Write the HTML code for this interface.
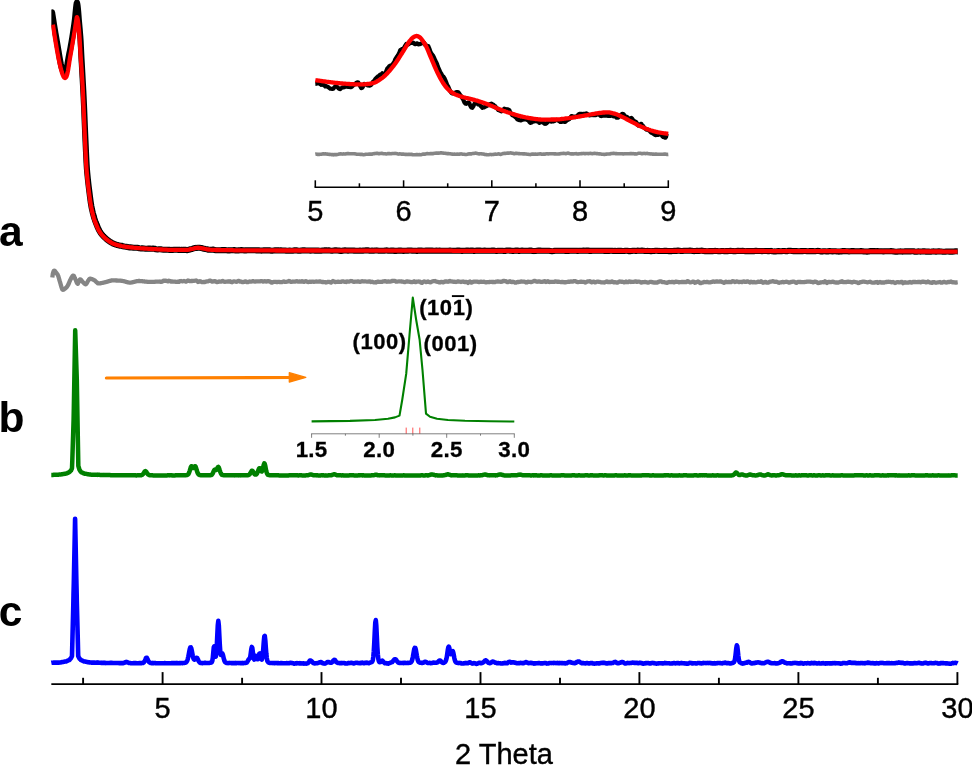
<!DOCTYPE html>
<html lang="en">
<head>
<meta charset="utf-8">
<title>XRD patterns</title>
<style>
html,body{margin:0;padding:0;background:#fff;}
body{width:972px;height:765px;overflow:hidden;}
svg{display:block;}
svg text{font-family:"Liberation Sans",Arial,Helvetica,sans-serif;fill:#000;}
.curve{fill:none;stroke-linejoin:round;stroke-linecap:butt;}
.ax{stroke:#000;stroke-width:1.9;fill:none;stroke-linecap:butt;}
.tl{font-size:29px;text-anchor:middle;stroke:#000;stroke-width:0.4px;}
.jl{font-size:22.3px;font-weight:bold;text-anchor:middle;letter-spacing:0.3px;stroke:#000;stroke-width:0.3px;}
.hk{font-size:22px;font-weight:bold;letter-spacing:0.55px;stroke:#000;stroke-width:0.3px;}
.pl{font-size:42.5px;font-weight:bold;}
</style>
</head>
<body>
<svg width="972" height="765" viewBox="0 0 972 765">
<rect x="0" y="0" width="972" height="765" fill="#ffffff"/>
<defs><clipPath id="plotclip"><rect x="51.35" y="-5" width="906.4" height="700"/></clipPath></defs>

<!-- pattern a: experimental (black), fit (red), difference (gray) -->
<path class="curve" stroke="#000000" stroke-width="6.1" style="stroke-linecap:round" clip-path="url(#plotclip)" d="M52.1,12.4 L52.4,14.4 L52.7,16.3 L53.0,18.2 L53.3,20.1 L53.6,22.0 L53.9,23.9 L54.2,25.7 L54.5,27.5 L54.8,29.3 L55.1,31.1 L55.4,32.9 L55.7,34.6 L56.0,36.3 L56.3,38.0 L56.6,39.7 L56.9,41.5 L57.2,43.2 L57.5,45.0 L57.8,46.8 L58.1,48.5 L58.4,50.3 L58.7,52.1 L59.0,53.9 L59.3,55.7 L59.6,57.5 L59.9,59.2 L60.2,60.8 L60.5,62.3 L60.8,63.9 L61.1,65.3 L61.4,66.6 L61.7,67.7 L62.0,68.6 L62.3,69.5 L62.6,70.3 L62.9,70.9 L63.2,71.4 L63.5,71.8 L63.8,72.1 L64.1,72.3 L64.4,72.4 L64.7,72.5 L65.0,72.4 L65.3,72.2 L65.6,71.9 L65.9,71.3 L66.2,70.3 L66.5,69.2 L66.8,67.9 L67.1,66.2 L67.4,64.4 L67.7,62.6 L68.0,60.8 L68.3,59.0 L68.6,57.3 L68.9,55.7 L69.2,54.2 L69.5,52.7 L69.8,51.3 L70.1,49.8 L70.4,48.2 L70.7,46.6 L71.0,44.9 L71.3,43.2 L71.6,41.5 L71.9,39.7 L72.2,37.9 L72.5,36.1 L72.8,34.2 L73.1,32.3 L73.4,30.3 L73.7,28.3 L74.0,26.3 L74.3,24.2 L74.6,22.0 L74.9,19.6 L75.2,16.7 L75.5,13.5 L75.8,10.5 L76.1,7.6 L76.4,5.1 L76.7,3.3 L77.0,2.6 L77.3,3.9 L77.6,5.8 L77.9,8.5 L78.2,11.7 L78.5,15.5 L78.8,19.4 L79.1,22.8 L79.4,26.1 L79.7,29.4 L80.0,32.9 L80.3,36.5 L80.6,40.8 L80.9,46.7 L81.2,53.0 L81.5,58.6 L81.8,63.8 L82.1,69.1 L82.4,74.5 L82.7,79.8 L83.0,85.3 L83.3,91.0 L83.6,96.9 L83.9,103.3 L84.2,110.2 L84.5,117.5 L84.8,124.9 L85.1,132.1 L85.4,138.9 L85.7,145.5 L86.0,152.1 L86.3,158.4 L86.6,164.1 L86.9,168.7 L87.2,172.4 L87.5,175.5 L87.8,178.5 L88.1,181.3 L88.4,184.0 L88.7,186.5 L89.0,188.9 L89.3,191.3 L89.6,193.7 L89.9,196.1 L90.2,198.4 L90.5,200.6 L90.8,202.7 L91.1,204.6 L91.4,206.3 L91.7,207.8 L92.0,209.3 L92.3,210.6 L92.6,211.9 L92.9,213.2 L93.2,214.3 L93.5,215.4 L93.8,216.5 L94.1,217.5 L94.4,218.5 L94.7,219.4 L95.0,220.3 L95.3,221.2 L95.6,222.0 L95.9,222.8 L96.2,223.5 L96.5,224.3 L96.8,225.0 L97.1,225.8 L97.4,226.5 L97.7,227.2 L98.0,227.9 L98.3,228.6 L98.6,229.2 L98.9,229.9 L99.2,230.4 L99.5,231.0 L99.8,231.5 L100.1,231.9 L100.4,232.4 L100.7,232.9 L101.0,233.3 L101.3,233.7 L101.6,234.1 L101.9,234.5 L102.2,234.8 L102.5,235.2 L102.8,235.5 L103.1,235.8 L103.4,236.2 L103.7,236.5 L104.0,236.8 L104.3,237.1 L104.6,237.4 L104.9,237.6 L105.2,237.9 L105.5,238.2 L105.8,238.4 L106.1,238.7 L106.4,239.0 L106.7,239.2 L107.0,239.5 L107.3,239.7 L107.6,240.0 L107.9,240.2 L108.2,240.4 L108.5,240.7 L108.8,240.9 L109.1,241.1 L109.4,241.3 L109.7,241.5 L110.0,241.7 L110.3,241.9 L110.6,242.1 L110.9,242.3 L111.2,242.4 L111.5,242.6 L111.8,242.8 L112.1,243.0 L112.4,243.1 L112.7,243.3 L113.0,243.4 L113.3,243.6 L113.6,243.7 L113.9,243.8 L114.2,243.9 L114.5,244.1 L114.8,244.2 L115.1,244.3 L115.4,244.4 L115.7,244.5 L116.0,244.6 L116.3,244.7 L116.6,244.8 L116.9,244.9 L117.2,245.0 L117.5,245.0 L117.8,245.1 L118.1,245.2 L118.4,245.3 L118.7,245.4 L119.0,245.4 L119.3,245.5 L119.6,245.6 L119.9,245.6 L120.0,245.7 L121.5,245.8 L123.0,246.2 L124.5,246.5 L126.0,246.7 L127.5,247.0 L129.0,247.4 L130.5,247.4 L132.0,247.5 L133.5,247.7 L135.0,247.8 L136.5,247.8 L138.0,247.9 L139.5,248.2 L141.0,248.4 L142.5,248.4 L144.0,248.5 L145.5,248.7 L147.0,248.8 L148.5,248.6 L150.0,248.6 L151.5,248.7 L153.0,248.5 L154.5,248.7 L156.0,249.3 L157.5,249.5 L159.0,249.3 L160.5,249.2 L162.0,249.5 L163.5,249.7 L165.0,249.7 L166.5,249.7 L168.0,249.8 L169.5,249.9 L171.0,250.0 L172.5,249.9 L174.0,249.7 L175.5,249.8 L177.0,249.8 L178.5,249.9 L180.0,249.9 L181.5,249.7 L183.0,249.9 L184.5,249.8 L186.0,249.9 L187.5,250.2 L189.0,249.7 L190.5,249.3 L192.0,249.0 L193.5,248.4 L195.0,248.0 L196.5,247.9 L198.0,247.7 L199.5,247.7 L201.0,247.9 L202.5,248.3 L204.0,248.8 L205.5,249.1 L207.0,249.3 L208.5,249.7 L210.0,249.8 L211.5,249.7 L213.0,249.6 L214.5,249.9 L216.0,250.2 L217.5,250.2 L219.0,250.2 L220.5,250.2 L222.0,250.1 L223.5,250.1 L225.0,250.1 L226.5,250.2 L228.0,250.4 L229.5,250.4 L231.0,250.3 L232.5,250.2 L234.0,250.1 L235.5,250.4 L237.0,250.5 L238.5,250.4 L240.0,250.3 L241.5,250.1 L243.0,250.2 L244.5,250.4 L246.0,250.4 L247.5,250.3 L249.0,250.3 L250.5,250.3 L252.0,250.2 L253.5,250.2 L255.0,250.3 L256.5,250.4 L258.0,250.4 L259.5,250.4 L261.0,250.6 L262.5,250.5 L264.0,250.3 L265.5,250.4 L267.0,250.4 L268.5,250.3 L270.0,250.4 L271.5,250.7 L273.0,250.6 L274.5,250.4 L276.0,250.3 L277.5,250.4 L279.0,250.4 L280.5,250.2 L282.0,250.5 L283.5,250.5 L285.0,250.5 L286.5,250.8 L288.0,250.7 L289.5,250.6 L291.0,250.8 L292.5,250.7 L294.0,250.4 L295.5,250.3 L297.0,250.4 L298.5,250.7 L300.0,250.8 L301.5,250.5 L303.0,250.3 L304.5,250.4 L306.0,250.5 L307.5,250.5 L309.0,250.5 L310.5,250.6 L312.0,250.5 L313.5,250.5 L315.0,250.6 L316.5,250.6 L318.0,250.6 L319.5,250.8 L321.0,250.8 L322.5,250.6 L324.0,250.4 L325.5,250.4 L327.0,250.4 L328.5,250.2 L330.0,250.5 L331.5,250.7 L333.0,250.6 L334.5,250.4 L336.0,250.3 L337.5,250.5 L339.0,250.6 L340.5,250.9 L342.0,250.9 L343.5,250.5 L345.0,250.4 L346.5,250.5 L348.0,250.6 L349.5,250.5 L351.0,250.5 L352.5,250.5 L354.0,250.6 L355.5,250.8 L357.0,250.8 L358.5,250.7 L360.0,250.6 L361.5,250.7 L363.0,250.6 L364.5,250.5 L366.0,250.4 L367.5,250.3 L369.0,250.6 L370.5,250.7 L372.0,250.6 L373.5,250.8 L375.0,250.6 L376.5,250.4 L378.0,250.6 L379.5,250.7 L381.0,250.7 L382.5,250.7 L384.0,250.8 L385.5,250.5 L387.0,250.4 L388.5,250.7 L390.0,250.8 L391.5,250.5 L393.0,250.6 L394.5,250.9 L396.0,250.9 L397.5,250.8 L399.0,250.6 L400.5,250.5 L402.0,250.8 L403.5,250.9 L405.0,250.8 L406.5,250.8 L408.0,250.6 L409.5,250.5 L411.0,250.5 L412.5,250.8 L414.0,250.7 L415.5,250.7 L417.0,250.9 L418.5,250.6 L420.0,250.5 L421.5,250.6 L423.0,250.7 L424.5,250.7 L426.0,250.6 L427.5,250.6 L429.0,250.6 L430.5,250.5 L432.0,250.6 L433.5,250.8 L435.0,250.7 L436.5,250.6 L438.0,250.7 L439.5,250.6 L441.0,250.7 L442.5,250.8 L444.0,250.8 L445.5,250.8 L447.0,250.7 L448.5,250.8 L450.0,250.6 L451.5,250.7 L453.0,250.8 L454.5,250.8 L456.0,250.8 L457.5,250.6 L459.0,250.6 L460.5,250.8 L462.0,250.9 L463.5,250.8 L465.0,250.7 L466.5,250.6 L468.0,250.6 L469.5,250.7 L471.0,250.5 L472.5,250.6 L474.0,250.9 L475.5,250.7 L477.0,250.5 L478.5,250.6 L480.0,250.6 L481.5,250.7 L483.0,250.7 L484.5,250.6 L486.0,250.8 L487.5,250.8 L489.0,250.8 L490.5,250.7 L492.0,250.6 L493.5,250.5 L495.0,250.8 L496.5,251.0 L498.0,250.8 L499.5,250.8 L501.0,250.8 L502.5,250.8 L504.0,251.0 L505.5,250.9 L507.0,250.5 L508.5,250.5 L510.0,250.6 L511.5,250.7 L513.0,251.0 L514.5,250.8 L516.0,250.6 L517.5,250.6 L519.0,250.9 L520.5,250.7 L522.0,250.6 L523.5,250.8 L525.0,250.8 L526.5,250.8 L528.0,250.7 L529.5,250.6 L531.0,250.6 L532.5,250.9 L534.0,251.1 L535.5,250.9 L537.0,250.7 L538.5,250.5 L540.0,250.6 L541.5,250.8 L543.0,250.8 L544.5,250.8 L546.0,250.7 L547.5,250.7 L549.0,250.8 L550.5,251.0 L552.0,251.2 L553.5,251.0 L555.0,250.7 L556.5,250.8 L558.0,250.8 L559.5,250.7 L561.0,250.8 L562.5,250.7 L564.0,250.8 L565.5,250.9 L567.0,250.9 L568.5,250.9 L570.0,250.8 L571.5,250.7 L573.0,250.7 L574.5,250.8 L576.0,250.8 L577.5,250.9 L579.0,250.7 L580.5,250.7 L582.0,250.7 L583.5,250.6 L585.0,250.8 L586.5,250.6 L588.0,250.6 L589.5,250.9 L591.0,250.9 L592.5,250.8 L594.0,250.8 L595.5,250.7 L597.0,250.7 L598.5,250.8 L600.0,250.8 L601.5,250.7 L603.0,250.8 L604.5,250.9 L606.0,250.9 L607.5,250.8 L609.0,250.9 L610.5,250.8 L612.0,250.7 L613.5,251.0 L615.0,250.9 L616.5,251.0 L618.0,250.9 L619.5,250.8 L621.0,250.9 L622.5,251.0 L624.0,251.0 L625.5,250.7 L627.0,250.8 L628.5,251.1 L630.0,251.1 L631.5,251.0 L633.0,250.7 L634.5,250.8 L636.0,251.0 L637.5,250.6 L639.0,250.7 L640.5,250.8 L642.0,250.6 L643.5,250.7 L645.0,251.0 L646.5,251.0 L648.0,250.9 L649.5,251.1 L651.0,251.3 L652.5,251.1 L654.0,250.9 L655.5,250.7 L657.0,250.7 L658.5,250.9 L660.0,251.0 L661.5,251.0 L663.0,251.0 L664.5,250.9 L666.0,250.8 L667.5,251.0 L669.0,251.1 L670.5,251.1 L672.0,251.1 L673.5,250.9 L675.0,250.9 L676.5,250.9 L678.0,250.6 L679.5,250.8 L681.0,251.0 L682.5,251.0 L684.0,250.8 L685.5,250.7 L687.0,250.8 L688.5,250.8 L690.0,250.6 L691.5,250.7 L693.0,251.0 L694.5,251.1 L696.0,250.9 L697.5,250.9 L699.0,251.0 L700.5,250.7 L702.0,250.6 L703.5,251.0 L705.0,251.1 L706.5,251.2 L708.0,251.3 L709.5,251.1 L711.0,251.0 L712.5,251.1 L714.0,251.0 L715.5,250.9 L717.0,251.1 L718.5,251.3 L720.0,251.2 L721.5,251.0 L723.0,251.0 L724.5,251.2 L726.0,251.1 L727.5,251.1 L729.0,251.0 L730.5,250.9 L732.0,251.0 L733.5,251.1 L735.0,251.2 L736.5,250.9 L738.0,250.7 L739.5,250.9 L741.0,251.0 L742.5,250.8 L744.0,251.0 L745.5,251.2 L747.0,251.1 L748.5,251.0 L750.0,251.1 L751.5,251.1 L753.0,251.1 L754.5,251.1 L756.0,250.8 L757.5,251.0 L759.0,251.0 L760.5,251.0 L762.0,251.1 L763.5,251.0 L765.0,251.0 L766.5,251.0 L768.0,251.1 L769.5,251.1 L771.0,250.9 L772.5,251.2 L774.0,251.4 L775.5,251.5 L777.0,251.3 L778.5,251.1 L780.0,251.3 L781.5,251.2 L783.0,251.0 L784.5,251.0 L786.0,251.2 L787.5,251.1 L789.0,250.8 L790.5,250.8 L792.0,251.0 L793.5,251.1 L795.0,251.0 L796.5,251.1 L798.0,251.2 L799.5,251.2 L801.0,251.1 L802.5,251.1 L804.0,251.0 L805.5,251.0 L807.0,251.2 L808.5,251.3 L810.0,251.1 L811.5,251.0 L813.0,251.1 L814.5,251.2 L816.0,251.1 L817.5,250.9 L819.0,251.0 L820.5,251.4 L822.0,251.6 L823.5,251.3 L825.0,251.3 L826.5,251.5 L828.0,251.4 L829.5,251.1 L831.0,251.3 L832.5,251.4 L834.0,251.3 L835.5,251.2 L837.0,251.4 L838.5,251.6 L840.0,251.5 L841.5,251.4 L843.0,251.1 L844.5,251.1 L846.0,251.3 L847.5,251.3 L849.0,251.4 L850.5,251.3 L852.0,251.0 L853.5,251.1 L855.0,251.2 L856.5,251.2 L858.0,251.2 L859.5,251.2 L861.0,251.0 L862.5,251.2 L864.0,251.5 L865.5,251.5 L867.0,251.6 L868.5,251.5 L870.0,251.1 L871.5,251.0 L873.0,251.1 L874.5,251.1 L876.0,251.3 L877.5,251.1 L879.0,251.2 L880.5,251.2 L882.0,251.2 L883.5,251.4 L885.0,251.3 L886.5,251.3 L888.0,251.3 L889.5,251.2 L891.0,251.1 L892.5,251.2 L894.0,251.6 L895.5,251.8 L897.0,251.8 L898.5,251.6 L900.0,251.4 L901.5,251.5 L903.0,251.6 L904.5,251.4 L906.0,251.4 L907.5,251.4 L909.0,251.4 L910.5,251.4 L912.0,251.3 L913.5,251.3 L915.0,251.7 L916.5,251.7 L918.0,251.4 L919.5,251.5 L921.0,251.6 L922.5,251.4 L924.0,251.3 L925.5,251.6 L927.0,251.6 L928.5,251.5 L930.0,251.7 L931.5,251.6 L933.0,251.4 L934.5,251.5 L936.0,251.6 L937.5,251.5 L939.0,251.2 L940.5,251.4 L942.0,251.6 L943.5,251.7 L945.0,251.8 L946.5,251.5 L948.0,251.5 L949.5,251.6 L951.0,251.5 L952.5,251.6 L954.0,251.5 L955.5,251.3 L957.0,251.3 L957.7,251.4"/>
<path class="curve" stroke="#ff0000" stroke-width="4.3" clip-path="url(#plotclip)" d="M52.9,24.6 L53.2,26.6 L53.5,28.5 L53.8,30.4 L54.1,32.4 L54.4,34.3 L54.7,36.2 L55.0,38.1 L55.3,40.0 L55.6,41.8 L55.9,43.6 L56.2,45.4 L56.5,47.2 L56.8,48.9 L57.1,50.6 L57.4,52.2 L57.7,53.9 L58.0,55.5 L58.3,57.1 L58.6,58.6 L58.9,60.1 L59.2,61.5 L59.5,62.9 L59.8,64.3 L60.1,65.6 L60.4,66.9 L60.7,68.1 L61.0,69.3 L61.3,70.4 L61.6,71.4 L61.9,72.5 L62.2,73.4 L62.5,74.2 L62.8,75.0 L63.1,75.7 L63.4,76.4 L63.7,76.9 L64.0,77.2 L64.3,77.6 L64.6,77.8 L64.9,78.0 L65.2,78.0 L65.5,77.8 L65.8,77.5 L66.1,77.1 L66.4,76.7 L66.7,75.9 L67.0,75.0 L67.3,73.9 L67.6,72.6 L67.9,71.1 L68.2,69.3 L68.5,67.5 L68.8,65.6 L69.1,63.6 L69.4,61.5 L69.7,59.6 L70.0,57.8 L70.3,56.1 L70.6,54.5 L70.9,52.8 L71.2,51.1 L71.5,49.4 L71.8,47.7 L72.1,45.9 L72.4,44.1 L72.7,42.4 L73.0,40.6 L73.3,38.8 L73.6,37.1 L73.9,35.4 L74.2,33.6 L74.5,31.8 L74.8,30.0 L75.1,28.1 L75.4,26.0 L75.7,24.0 L76.0,22.0 L76.3,20.0 L76.6,18.3 L76.9,17.1 L77.2,17.4 L77.5,18.5 L77.8,20.0 L78.1,22.0 L78.4,24.3 L78.7,26.9 L79.0,30.0 L79.3,33.9 L79.6,38.4 L79.9,43.4 L80.2,48.8 L80.5,54.0 L80.8,58.5 L81.1,62.8 L81.4,67.0 L81.7,71.5 L82.0,76.2 L82.3,81.1 L82.6,86.2 L82.9,92.1 L83.2,98.9 L83.5,105.7 L83.8,112.7 L84.1,119.7 L84.4,126.6 L84.7,133.5 L85.0,140.0 L85.3,146.5 L85.6,153.1 L85.9,159.4 L86.2,164.9 L86.5,169.4 L86.8,172.9 L87.1,176.0 L87.4,179.0 L87.7,181.8 L88.0,184.4 L88.3,186.9 L88.6,189.3 L88.9,191.7 L89.2,194.0 L89.5,196.3 L89.8,198.5 L90.1,200.7 L90.4,202.7 L90.7,204.5 L91.0,206.2 L91.3,207.7 L91.6,209.2 L91.9,210.6 L92.2,211.9 L92.5,213.1 L92.8,214.3 L93.1,215.5 L93.4,216.5 L93.7,217.6 L94.0,218.6 L94.3,219.5 L94.6,220.4 L94.9,221.2 L95.2,222.1 L95.5,222.8 L95.8,223.6 L96.1,224.4 L96.4,225.1 L96.7,225.8 L97.0,226.5 L97.3,227.2 L97.6,227.9 L97.9,228.6 L98.2,229.2 L98.5,229.8 L98.8,230.4 L99.1,230.9 L99.4,231.4 L99.7,231.9 L100.0,232.3 L100.3,232.8 L100.6,233.2 L100.9,233.6 L101.2,234.0 L101.5,234.4 L101.8,234.7 L102.1,235.1 L102.4,235.4 L102.7,235.8 L103.0,236.1 L103.3,236.4 L103.6,236.7 L103.9,237.0 L104.2,237.3 L104.5,237.6 L104.8,237.9 L105.1,238.2 L105.4,238.4 L105.7,238.7 L106.0,238.9 L106.3,239.2 L106.6,239.4 L106.9,239.7 L107.2,239.9 L107.5,240.1 L107.8,240.3 L108.1,240.6 L108.4,240.8 L108.7,241.0 L109.0,241.2 L109.3,241.4 L109.6,241.6 L109.9,241.8 L110.2,241.9 L110.5,242.1 L110.8,242.3 L111.1,242.5 L111.4,242.7 L111.7,242.9 L112.0,243.0 L112.3,243.2 L112.6,243.4 L112.9,243.5 L113.2,243.6 L113.5,243.8 L113.8,243.9 L114.1,244.0 L114.4,244.1 L114.7,244.2 L115.0,244.3 L115.3,244.4 L115.6,244.5 L115.9,244.6 L116.2,244.7 L116.5,244.8 L116.8,244.9 L117.1,244.9 L117.4,245.0 L117.7,245.1 L118.0,245.2 L118.3,245.3 L118.6,245.3 L118.9,245.4 L119.2,245.5 L119.5,245.5 L119.8,245.6 L120.0,245.6 L121.5,246.0 L123.0,246.3 L124.5,246.5 L126.0,246.8 L127.5,247.0 L129.0,247.2 L130.5,247.3 L132.0,247.5 L133.5,247.7 L135.0,247.8 L136.5,247.9 L138.0,248.1 L139.5,248.2 L141.0,248.3 L142.5,248.4 L144.0,248.5 L145.5,248.6 L147.0,248.7 L148.5,248.8 L150.0,248.9 L151.5,249.0 L153.0,249.1 L154.5,249.2 L156.0,249.2 L157.5,249.3 L159.0,249.4 L160.5,249.5 L162.0,249.5 L163.5,249.6 L165.0,249.7 L166.5,249.7 L168.0,249.8 L169.5,249.8 L171.0,249.8 L172.5,249.8 L174.0,249.8 L175.5,249.9 L177.0,249.9 L178.5,249.9 L180.0,249.9 L181.5,249.9 L183.0,249.9 L184.5,249.9 L186.0,249.9 L187.5,249.8 L189.0,249.6 L190.5,249.2 L192.0,248.9 L193.5,248.6 L195.0,248.2 L196.5,247.9 L198.0,247.7 L199.5,247.8 L201.0,248.1 L202.5,248.4 L204.0,248.7 L205.5,249.0 L207.0,249.3 L208.5,249.5 L210.0,249.7 L211.5,249.8 L213.0,249.9 L214.5,249.9 L216.0,250.0 L217.5,250.0 L219.0,250.0 L220.5,250.1 L222.0,250.1 L223.5,250.1 L225.0,250.2 L226.5,250.2 L228.0,250.2 L229.5,250.2 L231.0,250.2 L232.5,250.2 L234.0,250.3 L235.5,250.3 L237.0,250.3 L238.5,250.3 L240.0,250.3 L241.5,250.3 L243.0,250.3 L244.5,250.3 L246.0,250.3 L247.5,250.3 L249.0,250.3 L250.5,250.4 L252.0,250.4 L253.5,250.4 L255.0,250.4 L256.5,250.4 L258.0,250.4 L259.5,250.4 L261.0,250.4 L262.5,250.4 L264.0,250.4 L265.5,250.4 L267.0,250.4 L268.5,250.4 L270.0,250.4 L271.5,250.4 L273.0,250.4 L274.5,250.4 L276.0,250.5 L277.5,250.5 L279.0,250.5 L280.5,250.5 L282.0,250.5 L283.5,250.5 L285.0,250.5 L286.5,250.5 L288.0,250.5 L289.5,250.5 L291.0,250.5 L292.5,250.5 L294.0,250.5 L295.5,250.5 L297.0,250.5 L298.5,250.5 L300.0,250.5 L301.5,250.5 L303.0,250.5 L304.5,250.5 L306.0,250.5 L307.5,250.5 L309.0,250.5 L310.5,250.5 L312.0,250.5 L313.5,250.5 L315.0,250.5 L316.5,250.5 L318.0,250.5 L319.5,250.5 L321.0,250.6 L322.5,250.6 L324.0,250.6 L325.5,250.6 L327.0,250.6 L328.5,250.6 L330.0,250.6 L331.5,250.6 L333.0,250.6 L334.5,250.6 L336.0,250.6 L337.5,250.6 L339.0,250.6 L340.5,250.6 L342.0,250.6 L343.5,250.6 L345.0,250.6 L346.5,250.6 L348.0,250.6 L349.5,250.6 L351.0,250.6 L352.5,250.6 L354.0,250.6 L355.5,250.6 L357.0,250.6 L358.5,250.6 L360.0,250.6 L361.5,250.6 L363.0,250.6 L364.5,250.6 L366.0,250.6 L367.5,250.6 L369.0,250.6 L370.5,250.6 L372.0,250.6 L373.5,250.6 L375.0,250.6 L376.5,250.6 L378.0,250.6 L379.5,250.7 L381.0,250.7 L382.5,250.7 L384.0,250.7 L385.5,250.7 L387.0,250.7 L388.5,250.7 L390.0,250.7 L391.5,250.7 L393.0,250.7 L394.5,250.7 L396.0,250.7 L397.5,250.7 L399.0,250.7 L400.5,250.7 L402.0,250.7 L403.5,250.7 L405.0,250.7 L406.5,250.7 L408.0,250.7 L409.5,250.7 L411.0,250.7 L412.5,250.7 L414.0,250.7 L415.5,250.7 L417.0,250.7 L418.5,250.7 L420.0,250.7 L421.5,250.7 L423.0,250.7 L424.5,250.7 L426.0,250.7 L427.5,250.7 L429.0,250.7 L430.5,250.7 L432.0,250.7 L433.5,250.7 L435.0,250.7 L436.5,250.7 L438.0,250.7 L439.5,250.7 L441.0,250.7 L442.5,250.7 L444.0,250.7 L445.5,250.7 L447.0,250.7 L448.5,250.7 L450.0,250.7 L451.5,250.7 L453.0,250.8 L454.5,250.8 L456.0,250.8 L457.5,250.8 L459.0,250.8 L460.5,250.8 L462.0,250.8 L463.5,250.8 L465.0,250.8 L466.5,250.8 L468.0,250.8 L469.5,250.8 L471.0,250.8 L472.5,250.8 L474.0,250.8 L475.5,250.8 L477.0,250.8 L478.5,250.8 L480.0,250.8 L481.5,250.8 L483.0,250.8 L484.5,250.8 L486.0,250.8 L487.5,250.8 L489.0,250.8 L490.5,250.8 L492.0,250.8 L493.5,250.8 L495.0,250.8 L496.5,250.8 L498.0,250.8 L499.5,250.8 L501.0,250.8 L502.5,250.8 L504.0,250.8 L505.5,250.8 L507.0,250.8 L508.5,250.8 L510.0,250.8 L511.5,250.8 L513.0,250.8 L514.5,250.8 L516.0,250.8 L517.5,250.8 L519.0,250.8 L520.5,250.8 L522.0,250.8 L523.5,250.8 L525.0,250.8 L526.5,250.8 L528.0,250.8 L529.5,250.8 L531.0,250.8 L532.5,250.8 L534.0,250.8 L535.5,250.8 L537.0,250.8 L538.5,250.8 L540.0,250.8 L541.5,250.8 L543.0,250.8 L544.5,250.8 L546.0,250.8 L547.5,250.8 L549.0,250.8 L550.5,250.8 L552.0,250.8 L553.5,250.8 L555.0,250.8 L556.5,250.8 L558.0,250.8 L559.5,250.8 L561.0,250.8 L562.5,250.8 L564.0,250.8 L565.5,250.9 L567.0,250.9 L568.5,250.9 L570.0,250.9 L571.5,250.9 L573.0,250.9 L574.5,250.9 L576.0,250.9 L577.5,250.9 L579.0,250.9 L580.5,250.9 L582.0,250.9 L583.5,250.9 L585.0,250.9 L586.5,250.9 L588.0,250.9 L589.5,250.9 L591.0,250.9 L592.5,250.9 L594.0,250.9 L595.5,250.9 L597.0,250.9 L598.5,250.9 L600.0,250.9 L601.5,250.9 L603.0,250.9 L604.5,250.9 L606.0,250.9 L607.5,250.9 L609.0,250.9 L610.5,250.9 L612.0,250.9 L613.5,250.9 L615.0,250.9 L616.5,250.9 L618.0,250.9 L619.5,250.9 L621.0,250.9 L622.5,250.9 L624.0,250.9 L625.5,250.9 L627.0,250.9 L628.5,250.9 L630.0,250.9 L631.5,250.9 L633.0,250.9 L634.5,250.9 L636.0,250.9 L637.5,250.9 L639.0,250.9 L640.5,250.9 L642.0,250.9 L643.5,250.9 L645.0,250.9 L646.5,250.9 L648.0,250.9 L649.5,250.9 L651.0,250.9 L652.5,250.9 L654.0,250.9 L655.5,250.9 L657.0,250.9 L658.5,250.9 L660.0,250.9 L661.5,250.9 L663.0,250.9 L664.5,250.9 L666.0,250.9 L667.5,250.9 L669.0,250.9 L670.5,250.9 L672.0,250.9 L673.5,250.9 L675.0,250.9 L676.5,250.9 L678.0,250.9 L679.5,250.9 L681.0,250.9 L682.5,250.9 L684.0,250.9 L685.5,250.9 L687.0,250.9 L688.5,250.9 L690.0,250.9 L691.5,250.9 L693.0,250.9 L694.5,250.9 L696.0,250.9 L697.5,250.9 L699.0,250.9 L700.5,251.0 L702.0,251.0 L703.5,251.0 L705.0,251.0 L706.5,251.0 L708.0,251.0 L709.5,251.0 L711.0,251.0 L712.5,251.0 L714.0,251.0 L715.5,251.0 L717.0,251.0 L718.5,251.0 L720.0,251.0 L721.5,251.0 L723.0,251.0 L724.5,251.0 L726.0,251.0 L727.5,251.0 L729.0,251.0 L730.5,251.0 L732.0,251.0 L733.5,251.0 L735.0,251.0 L736.5,251.0 L738.0,251.0 L739.5,251.0 L741.0,251.0 L742.5,251.0 L744.0,251.0 L745.5,251.0 L747.0,251.0 L748.5,251.0 L750.0,251.0 L751.5,251.0 L753.0,251.0 L754.5,251.0 L756.0,251.0 L757.5,251.0 L759.0,251.0 L760.5,251.0 L762.0,251.0 L763.5,251.0 L765.0,251.1 L766.5,251.1 L768.0,251.1 L769.5,251.1 L771.0,251.1 L772.5,251.1 L774.0,251.1 L775.5,251.1 L777.0,251.1 L778.5,251.1 L780.0,251.1 L781.5,251.1 L783.0,251.1 L784.5,251.1 L786.0,251.1 L787.5,251.1 L789.0,251.1 L790.5,251.1 L792.0,251.1 L793.5,251.1 L795.0,251.1 L796.5,251.1 L798.0,251.1 L799.5,251.1 L801.0,251.1 L802.5,251.1 L804.0,251.1 L805.5,251.1 L807.0,251.1 L808.5,251.1 L810.0,251.2 L811.5,251.2 L813.0,251.2 L814.5,251.2 L816.0,251.2 L817.5,251.2 L819.0,251.2 L820.5,251.2 L822.0,251.2 L823.5,251.2 L825.0,251.2 L826.5,251.2 L828.0,251.2 L829.5,251.2 L831.0,251.2 L832.5,251.2 L834.0,251.2 L835.5,251.2 L837.0,251.2 L838.5,251.2 L840.0,251.2 L841.5,251.2 L843.0,251.2 L844.5,251.2 L846.0,251.2 L847.5,251.2 L849.0,251.3 L850.5,251.3 L852.0,251.3 L853.5,251.3 L855.0,251.3 L856.5,251.3 L858.0,251.3 L859.5,251.3 L861.0,251.3 L862.5,251.3 L864.0,251.3 L865.5,251.3 L867.0,251.3 L868.5,251.3 L870.0,251.3 L871.5,251.3 L873.0,251.3 L874.5,251.3 L876.0,251.3 L877.5,251.3 L879.0,251.3 L880.5,251.3 L882.0,251.3 L883.5,251.4 L885.0,251.4 L886.5,251.4 L888.0,251.4 L889.5,251.4 L891.0,251.4 L892.5,251.4 L894.0,251.4 L895.5,251.4 L897.0,251.4 L898.5,251.4 L900.0,251.4 L901.5,251.4 L903.0,251.4 L904.5,251.4 L906.0,251.4 L907.5,251.4 L909.0,251.4 L910.5,251.4 L912.0,251.4 L913.5,251.4 L915.0,251.5 L916.5,251.5 L918.0,251.5 L919.5,251.5 L921.0,251.5 L922.5,251.5 L924.0,251.5 L925.5,251.5 L927.0,251.5 L928.5,251.5 L930.0,251.5 L931.5,251.5 L933.0,251.5 L934.5,251.5 L936.0,251.5 L937.5,251.5 L939.0,251.5 L940.5,251.5 L942.0,251.5 L943.5,251.6 L945.0,251.6 L946.5,251.6 L948.0,251.6 L949.5,251.6 L951.0,251.6 L952.5,251.6 L954.0,251.6 L955.5,251.6 L957.0,251.6 L957.7,251.6"/>
<path class="curve" stroke="#858585" stroke-width="4.3" d="M52.3,277.5 L52.8,273.9 L53.3,272.1 L53.8,270.9 L54.3,270.6 L54.8,270.9 L55.3,271.5 L55.8,272.2 L56.3,272.9 L56.8,273.5 L57.3,274.2 L57.8,275.0 L58.3,276.2 L58.8,277.8 L59.3,279.6 L59.8,281.4 L60.3,283.0 L60.8,284.8 L61.3,286.6 L61.8,288.2 L62.3,289.4 L62.8,289.8 L63.3,289.7 L63.8,289.5 L64.3,289.1 L64.8,288.7 L65.3,288.4 L65.8,287.9 L66.3,287.4 L66.8,286.9 L67.3,286.2 L67.8,285.5 L68.3,284.6 L68.8,283.5 L69.3,282.2 L69.8,281.0 L70.3,279.9 L70.8,279.0 L71.3,278.0 L71.8,277.1 L72.3,276.3 L72.8,275.8 L73.3,275.6 L73.8,275.9 L74.3,276.8 L74.8,278.0 L75.3,279.1 L75.8,280.1 L76.3,281.4 L76.8,282.6 L77.3,283.5 L77.8,283.8 L78.3,282.8 L78.8,281.4 L79.3,280.4 L79.8,279.5 L80.3,279.3 L80.8,279.6 L81.3,280.2 L81.8,280.8 L82.3,281.5 L82.8,282.0 L83.3,282.5 L83.8,283.0 L84.3,283.5 L84.8,283.9 L85.3,284.2 L85.8,284.3 L86.3,283.9 L86.8,283.1 L87.3,282.2 L87.8,281.3 L88.3,280.6 L88.8,279.8 L89.3,279.1 L89.8,278.7 L90.3,278.7 L90.8,278.8 L91.3,278.9 L91.8,279.1 L92.3,279.3 L92.8,279.5 L93.3,279.7 L93.8,280.0 L94.3,280.2 L94.8,280.5 L95.3,280.9 L95.8,281.4 L96.3,281.9 L96.8,282.4 L97.3,282.8 L97.8,283.2 L98.3,283.4 L98.8,283.4 L99.3,283.4 L99.8,283.3 L100.3,283.3 L100.8,283.2 L101.3,283.1 L101.8,283.0 L102.3,282.9 L102.8,282.8 L103.3,282.7 L103.8,282.6 L104.3,282.4 L104.8,282.3 L105.3,282.2 L105.8,282.1 L106.3,282.0 L106.8,281.8 L107.3,281.7 L107.8,281.5 L108.3,281.3 L108.8,281.2 L109.3,281.0 L109.8,280.9 L110.3,280.8 L110.8,280.6 L111.3,280.5 L111.8,280.5 L112.3,280.4 L112.8,280.4 L113.3,280.4 L113.8,280.4 L114.3,280.4 L114.8,280.4 L115.3,280.4 L115.8,280.5 L116.3,280.5 L116.8,280.5 L117.3,280.5 L117.8,280.6 L118.3,280.6 L118.8,280.6 L119.3,280.6 L119.8,280.7 L120.3,280.7 L120.8,280.7 L121.3,280.8 L121.8,280.8 L122.3,280.9 L122.8,281.0 L123.3,281.1 L123.8,281.2 L124.3,281.3 L124.8,281.5 L125.3,281.6 L125.8,281.8 L126.3,281.9 L126.8,282.1 L127.3,282.2 L127.8,282.3 L128.3,282.4 L128.8,282.5 L129.3,282.6 L129.8,282.6 L130.3,282.6 L130.8,282.6 L131.3,282.5 L131.8,282.4 L132.3,282.3 L132.8,282.2 L133.3,282.1 L133.8,282.0 L134.3,281.8 L134.8,281.7 L135.3,281.6 L135.8,281.4 L136.3,281.3 L136.8,281.2 L137.3,281.1 L137.8,281.1 L138.3,281.0 L138.8,281.0 L139.3,281.0 L139.8,281.0 L140.3,281.1 L140.8,281.1 L141.3,281.1 L141.8,281.2 L142.3,281.2 L142.8,281.3 L143.3,281.4 L143.8,281.4 L144.3,281.5 L144.8,281.5 L145.3,281.6 L145.8,281.6 L146.3,281.7 L146.8,281.7 L147.3,281.8 L147.8,281.8 L148.3,281.8 L148.8,281.8 L149.3,281.8 L149.8,281.8 L150.3,281.8 L150.8,281.8 L151.3,281.8 L151.8,281.8 L152.3,281.8 L152.8,281.8 L153.3,281.8 L153.8,281.8 L154.3,281.8 L154.8,281.8 L155.3,281.7 L155.8,281.7 L156.3,281.7 L156.8,281.7 L157.3,281.7 L157.8,281.6 L158.3,281.6 L158.8,281.6 L159.3,281.6 L159.8,281.5 L160.0,281.6 L161.0,281.9 L162.0,281.7 L163.0,280.9 L164.0,280.7 L165.0,280.9 L166.0,280.7 L167.0,281.1 L168.0,281.3 L169.0,280.7 L170.0,281.0 L171.0,281.5 L172.0,281.5 L173.0,281.6 L174.0,281.6 L175.0,281.6 L176.0,281.8 L177.0,281.9 L178.0,281.7 L179.0,281.8 L180.0,281.2 L181.0,281.0 L182.0,281.3 L183.0,281.3 L184.0,281.0 L185.0,281.3 L186.0,281.7 L187.0,280.9 L188.0,280.5 L189.0,280.8 L190.0,281.2 L191.0,281.0 L192.0,281.0 L193.0,280.9 L194.0,280.8 L195.0,280.7 L196.0,280.5 L197.0,281.0 L198.0,282.0 L199.0,281.7 L200.0,281.2 L201.0,281.6 L202.0,282.2 L203.0,282.2 L204.0,281.9 L205.0,282.0 L206.0,281.6 L207.0,281.4 L208.0,281.4 L209.0,280.9 L210.0,280.6 L211.0,281.0 L212.0,281.5 L213.0,281.6 L214.0,281.2 L215.0,281.1 L216.0,281.8 L217.0,282.1 L218.0,281.9 L219.0,281.5 L220.0,281.6 L221.0,281.7 L222.0,281.1 L223.0,281.0 L224.0,281.6 L225.0,281.8 L226.0,281.7 L227.0,281.6 L228.0,281.5 L229.0,281.5 L230.0,281.2 L231.0,282.0 L232.0,282.3 L233.0,281.5 L234.0,281.3 L235.0,281.5 L236.0,281.8 L237.0,281.6 L238.0,281.0 L239.0,281.0 L240.0,281.5 L241.0,281.6 L242.0,282.0 L243.0,282.1 L244.0,281.9 L245.0,281.5 L246.0,281.4 L247.0,282.2 L248.0,282.1 L249.0,281.6 L250.0,281.5 L251.0,281.7 L252.0,281.5 L253.0,281.1 L254.0,281.5 L255.0,281.7 L256.0,281.4 L257.0,281.3 L258.0,281.3 L259.0,281.3 L260.0,281.3 L261.0,281.1 L262.0,281.1 L263.0,281.6 L264.0,281.4 L265.0,281.2 L266.0,281.6 L267.0,281.4 L268.0,281.2 L269.0,281.2 L270.0,281.5 L271.0,282.4 L272.0,282.7 L273.0,282.1 L274.0,281.9 L275.0,281.9 L276.0,281.9 L277.0,282.2 L278.0,281.9 L279.0,281.8 L280.0,282.1 L281.0,282.1 L282.0,282.1 L283.0,281.6 L284.0,281.5 L285.0,281.9 L286.0,281.8 L287.0,281.7 L288.0,281.5 L289.0,280.9 L290.0,281.3 L291.0,281.9 L292.0,281.8 L293.0,281.5 L294.0,281.7 L295.0,281.6 L296.0,281.3 L297.0,281.2 L298.0,281.7 L299.0,281.5 L300.0,281.5 L301.0,281.7 L302.0,281.1 L303.0,281.7 L304.0,281.9 L305.0,281.3 L306.0,281.2 L307.0,281.7 L308.0,282.1 L309.0,281.9 L310.0,281.7 L311.0,281.8 L312.0,281.6 L313.0,281.6 L314.0,281.8 L315.0,281.7 L316.0,281.5 L317.0,281.6 L318.0,281.7 L319.0,281.5 L320.0,281.4 L321.0,281.7 L322.0,282.0 L323.0,281.9 L324.0,282.1 L325.0,282.1 L326.0,282.5 L327.0,282.2 L328.0,281.8 L329.0,281.9 L330.0,282.2 L331.0,282.6 L332.0,281.7 L333.0,281.0 L334.0,281.6 L335.0,282.0 L336.0,282.0 L337.0,281.8 L338.0,281.7 L339.0,281.9 L340.0,281.8 L341.0,281.9 L342.0,281.3 L343.0,281.3 L344.0,281.6 L345.0,281.8 L346.0,282.0 L347.0,281.5 L348.0,281.6 L349.0,281.6 L350.0,281.3 L351.0,281.0 L352.0,281.2 L353.0,281.7 L354.0,281.9 L355.0,281.7 L356.0,281.7 L357.0,281.6 L358.0,281.4 L359.0,281.6 L360.0,281.8 L361.0,281.6 L362.0,281.2 L363.0,281.3 L364.0,281.5 L365.0,281.3 L366.0,281.5 L367.0,281.7 L368.0,281.6 L369.0,281.5 L370.0,281.5 L371.0,282.0 L372.0,281.7 L373.0,282.2 L374.0,282.4 L375.0,282.3 L376.0,282.5 L377.0,281.8 L378.0,281.6 L379.0,281.8 L380.0,281.9 L381.0,281.9 L382.0,281.9 L383.0,281.3 L384.0,281.4 L385.0,281.2 L386.0,281.4 L387.0,281.8 L388.0,281.5 L389.0,281.5 L390.0,281.7 L391.0,281.5 L392.0,280.9 L393.0,281.0 L394.0,280.8 L395.0,280.8 L396.0,281.7 L397.0,281.7 L398.0,281.5 L399.0,281.3 L400.0,281.3 L401.0,281.5 L402.0,281.5 L403.0,281.7 L404.0,282.1 L405.0,282.1 L406.0,281.6 L407.0,281.4 L408.0,281.5 L409.0,281.7 L410.0,281.9 L411.0,282.0 L412.0,282.2 L413.0,281.8 L414.0,281.3 L415.0,282.1 L416.0,282.0 L417.0,281.6 L418.0,281.6 L419.0,281.5 L420.0,281.7 L421.0,282.6 L422.0,282.8 L423.0,281.9 L424.0,281.5 L425.0,281.6 L426.0,282.1 L427.0,281.9 L428.0,281.5 L429.0,281.9 L430.0,282.3 L431.0,282.1 L432.0,281.5 L433.0,281.2 L434.0,281.2 L435.0,281.0 L436.0,281.4 L437.0,281.8 L438.0,281.8 L439.0,282.3 L440.0,282.5 L441.0,281.9 L442.0,281.9 L443.0,282.4 L444.0,282.0 L445.0,281.5 L446.0,281.5 L447.0,281.4 L448.0,281.8 L449.0,281.4 L450.0,280.8 L451.0,281.3 L452.0,281.5 L453.0,281.6 L454.0,281.8 L455.0,281.7 L456.0,282.0 L457.0,281.7 L458.0,281.3 L459.0,281.7 L460.0,281.7 L461.0,282.0 L462.0,281.7 L463.0,281.5 L464.0,281.9 L465.0,282.1 L466.0,281.8 L467.0,282.1 L468.0,282.9 L469.0,282.0 L470.0,281.5 L471.0,282.5 L472.0,282.5 L473.0,281.9 L474.0,281.7 L475.0,281.6 L476.0,281.6 L477.0,281.7 L478.0,281.9 L479.0,282.1 L480.0,281.8 L481.0,281.6 L482.0,281.8 L483.0,281.8 L484.0,281.7 L485.0,282.2 L486.0,282.4 L487.0,282.2 L488.0,282.2 L489.0,282.0 L490.0,282.0 L491.0,281.8 L492.0,282.0 L493.0,281.9 L494.0,282.0 L495.0,282.2 L496.0,281.7 L497.0,281.5 L498.0,281.5 L499.0,281.6 L500.0,281.6 L501.0,281.8 L502.0,281.7 L503.0,280.9 L504.0,280.9 L505.0,281.1 L506.0,281.2 L507.0,282.0 L508.0,282.1 L509.0,281.6 L510.0,281.2 L511.0,282.0 L512.0,282.2 L513.0,281.7 L514.0,282.0 L515.0,282.6 L516.0,282.7 L517.0,282.1 L518.0,281.9 L519.0,282.0 L520.0,281.8 L521.0,281.4 L522.0,281.6 L523.0,281.7 L524.0,281.6 L525.0,281.8 L526.0,282.5 L527.0,282.3 L528.0,281.7 L529.0,281.8 L530.0,281.9 L531.0,282.1 L532.0,281.9 L533.0,281.4 L534.0,281.0 L535.0,280.9 L536.0,281.5 L537.0,281.8 L538.0,281.4 L539.0,281.3 L540.0,281.7 L541.0,281.9 L542.0,281.8 L543.0,281.6 L544.0,281.4 L545.0,281.2 L546.0,282.0 L547.0,281.7 L548.0,281.2 L549.0,281.9 L550.0,282.0 L551.0,281.8 L552.0,281.8 L553.0,281.9 L554.0,281.9 L555.0,281.5 L556.0,281.4 L557.0,281.8 L558.0,281.6 L559.0,281.7 L560.0,282.0 L561.0,282.2 L562.0,281.9 L563.0,281.9 L564.0,282.3 L565.0,282.2 L566.0,282.3 L567.0,282.0 L568.0,281.7 L569.0,281.9 L570.0,281.6 L571.0,281.5 L572.0,281.6 L573.0,281.5 L574.0,281.1 L575.0,281.1 L576.0,281.5 L577.0,281.9 L578.0,282.2 L579.0,282.0 L580.0,281.8 L581.0,281.6 L582.0,281.9 L583.0,281.9 L584.0,281.9 L585.0,282.5 L586.0,282.4 L587.0,281.6 L588.0,281.4 L589.0,281.3 L590.0,281.2 L591.0,282.0 L592.0,282.4 L593.0,281.6 L594.0,281.7 L595.0,282.4 L596.0,282.1 L597.0,281.6 L598.0,281.6 L599.0,281.8 L600.0,281.9 L601.0,282.3 L602.0,282.4 L603.0,282.3 L604.0,282.5 L605.0,282.4 L606.0,281.6 L607.0,281.5 L608.0,282.0 L609.0,281.9 L610.0,282.0 L611.0,282.0 L612.0,281.4 L613.0,282.0 L614.0,282.4 L615.0,282.2 L616.0,282.3 L617.0,282.6 L618.0,282.5 L619.0,281.6 L620.0,281.5 L621.0,281.8 L622.0,281.7 L623.0,281.8 L624.0,282.3 L625.0,282.1 L626.0,281.5 L627.0,282.1 L628.0,282.2 L629.0,281.4 L630.0,281.6 L631.0,282.0 L632.0,281.8 L633.0,281.8 L634.0,281.8 L635.0,281.4 L636.0,281.5 L637.0,281.9 L638.0,281.7 L639.0,281.7 L640.0,281.8 L641.0,282.6 L642.0,282.4 L643.0,282.1 L644.0,282.2 L645.0,281.9 L646.0,282.2 L647.0,282.4 L648.0,282.6 L649.0,282.4 L650.0,281.9 L651.0,281.8 L652.0,282.1 L653.0,282.4 L654.0,282.5 L655.0,282.6 L656.0,282.5 L657.0,282.6 L658.0,282.3 L659.0,281.5 L660.0,281.3 L661.0,281.3 L662.0,282.0 L663.0,282.1 L664.0,282.1 L665.0,282.5 L666.0,282.7 L667.0,282.9 L668.0,282.3 L669.0,282.0 L670.0,282.1 L671.0,282.1 L672.0,281.9 L673.0,281.8 L674.0,282.4 L675.0,282.0 L676.0,281.6 L677.0,281.8 L678.0,281.8 L679.0,282.3 L680.0,282.2 L681.0,282.2 L682.0,281.9 L683.0,281.9 L684.0,282.1 L685.0,282.0 L686.0,282.2 L687.0,281.4 L688.0,281.1 L689.0,281.9 L690.0,282.4 L691.0,282.3 L692.0,282.0 L693.0,281.6 L694.0,281.9 L695.0,282.8 L696.0,282.5 L697.0,281.9 L698.0,281.5 L699.0,281.9 L700.0,283.0 L701.0,283.1 L702.0,282.6 L703.0,282.5 L704.0,281.9 L705.0,282.2 L706.0,282.2 L707.0,281.8 L708.0,282.1 L709.0,282.3 L710.0,282.3 L711.0,282.1 L712.0,281.9 L713.0,281.5 L714.0,281.6 L715.0,281.8 L716.0,281.5 L717.0,281.4 L718.0,281.7 L719.0,281.6 L720.0,281.4 L721.0,281.5 L722.0,281.9 L723.0,282.3 L724.0,282.8 L725.0,282.3 L726.0,281.6 L727.0,282.1 L728.0,282.1 L729.0,281.8 L730.0,282.1 L731.0,282.2 L732.0,281.4 L733.0,281.2 L734.0,281.6 L735.0,282.1 L736.0,281.7 L737.0,281.3 L738.0,281.8 L739.0,282.1 L740.0,281.9 L741.0,281.9 L742.0,282.1 L743.0,281.5 L744.0,281.3 L745.0,281.9 L746.0,281.9 L747.0,281.3 L748.0,281.4 L749.0,282.1 L750.0,282.5 L751.0,281.7 L752.0,282.1 L753.0,282.3 L754.0,281.8 L755.0,282.3 L756.0,282.3 L757.0,282.2 L758.0,281.7 L759.0,281.9 L760.0,281.9 L761.0,281.2 L762.0,282.1 L763.0,282.8 L764.0,282.5 L765.0,282.0 L766.0,282.0 L767.0,282.7 L768.0,282.7 L769.0,282.3 L770.0,281.7 L771.0,281.7 L772.0,281.5 L773.0,281.1 L774.0,281.7 L775.0,281.8 L776.0,281.7 L777.0,281.9 L778.0,282.4 L779.0,282.8 L780.0,282.3 L781.0,282.4 L782.0,282.2 L783.0,281.8 L784.0,282.3 L785.0,282.0 L786.0,281.7 L787.0,281.8 L788.0,282.0 L789.0,282.7 L790.0,282.4 L791.0,282.0 L792.0,281.9 L793.0,281.7 L794.0,281.6 L795.0,282.1 L796.0,282.9 L797.0,282.6 L798.0,281.8 L799.0,281.9 L800.0,282.0 L801.0,282.0 L802.0,282.2 L803.0,282.1 L804.0,282.1 L805.0,282.0 L806.0,281.8 L807.0,281.6 L808.0,281.6 L809.0,281.7 L810.0,281.7 L811.0,281.9 L812.0,281.9 L813.0,282.4 L814.0,282.0 L815.0,281.6 L816.0,281.8 L817.0,282.2 L818.0,283.0 L819.0,282.9 L820.0,282.5 L821.0,282.5 L822.0,282.2 L823.0,282.2 L824.0,282.3 L825.0,281.2 L826.0,281.9 L827.0,283.0 L828.0,282.1 L829.0,281.8 L830.0,282.1 L831.0,282.1 L832.0,281.8 L833.0,281.6 L834.0,282.2 L835.0,282.4 L836.0,282.5 L837.0,282.4 L838.0,282.6 L839.0,282.3 L840.0,281.9 L841.0,281.6 L842.0,281.2 L843.0,282.1 L844.0,282.2 L845.0,282.0 L846.0,282.2 L847.0,281.8 L848.0,281.7 L849.0,281.9 L850.0,281.9 L851.0,282.2 L852.0,282.5 L853.0,282.1 L854.0,281.7 L855.0,282.0 L856.0,282.2 L857.0,282.3 L858.0,283.0 L859.0,282.9 L860.0,282.2 L861.0,282.1 L862.0,281.9 L863.0,281.7 L864.0,281.7 L865.0,281.8 L866.0,282.0 L867.0,282.3 L868.0,282.3 L869.0,282.0 L870.0,281.7 L871.0,282.2 L872.0,282.6 L873.0,282.7 L874.0,282.7 L875.0,282.4 L876.0,282.2 L877.0,282.0 L878.0,282.8 L879.0,282.3 L880.0,281.9 L881.0,282.6 L882.0,282.5 L883.0,282.4 L884.0,282.6 L885.0,282.3 L886.0,282.0 L887.0,282.0 L888.0,281.7 L889.0,281.8 L890.0,281.9 L891.0,282.1 L892.0,282.3 L893.0,282.0 L894.0,282.4 L895.0,283.0 L896.0,282.7 L897.0,282.2 L898.0,282.1 L899.0,282.3 L900.0,282.4 L901.0,281.9 L902.0,282.0 L903.0,283.2 L904.0,282.6 L905.0,282.2 L906.0,282.7 L907.0,282.5 L908.0,282.7 L909.0,282.3 L910.0,281.9 L911.0,282.6 L912.0,282.5 L913.0,281.9 L914.0,282.0 L915.0,281.9 L916.0,282.2 L917.0,282.1 L918.0,282.0 L919.0,282.0 L920.0,282.0 L921.0,282.4 L922.0,281.6 L923.0,281.6 L924.0,281.9 L925.0,281.8 L926.0,282.4 L927.0,282.2 L928.0,281.5 L929.0,282.1 L930.0,282.5 L931.0,282.6 L932.0,282.8 L933.0,282.2 L934.0,282.1 L935.0,282.5 L936.0,282.8 L937.0,282.5 L938.0,282.3 L939.0,282.2 L940.0,282.0 L941.0,282.6 L942.0,282.7 L943.0,282.0 L944.0,281.8 L945.0,282.2 L946.0,282.5 L947.0,282.4 L948.0,282.0 L949.0,282.1 L950.0,281.8 L951.0,281.5 L952.0,282.1 L953.0,282.3 L954.0,282.2 L955.0,282.5 L956.0,282.6 L957.0,282.3 L957.7,282.2"/>

<!-- inset for a: 5 to 9 degrees -->
<path class="curve" stroke="#000000" stroke-width="4.2" d="M315.3,83.8 L316.3,83.7 L317.3,83.3 L318.3,82.8 L319.3,83.5 L320.3,84.0 L321.3,84.8 L322.3,84.1 L323.3,85.1 L324.3,85.1 L325.3,86.5 L326.3,86.2 L327.3,86.6 L328.3,87.1 L329.3,88.0 L330.3,88.6 L331.3,88.8 L332.3,89.0 L333.3,88.8 L334.3,87.4 L335.3,86.3 L336.3,86.2 L337.3,87.1 L338.3,88.1 L339.3,89.0 L340.3,89.1 L341.3,88.1 L342.3,87.4 L343.3,87.4 L344.3,87.2 L345.3,86.6 L346.3,86.3 L347.3,86.7 L348.3,86.9 L349.3,87.0 L350.3,87.1 L351.3,87.1 L352.3,86.3 L353.3,85.3 L354.3,84.5 L355.3,84.2 L356.3,82.8 L357.3,82.3 L358.3,82.6 L359.3,84.3 L360.3,86.5 L361.3,88.1 L362.3,87.7 L363.3,85.9 L364.3,84.0 L365.3,84.4 L366.3,84.4 L367.3,85.3 L368.3,85.2 L369.3,85.7 L370.3,85.5 L371.3,84.6 L372.3,83.3 L373.3,81.3 L374.3,80.8 L375.3,79.0 L376.3,78.0 L377.3,77.0 L378.3,76.1 L379.3,75.6 L380.3,74.6 L381.3,74.5 L382.3,73.3 L383.3,74.0 L384.3,74.3 L385.3,73.8 L386.3,71.1 L387.3,68.5 L388.3,67.7 L389.3,66.2 L390.3,65.8 L391.3,65.1 L392.3,65.3 L393.3,63.3 L394.3,61.9 L395.3,59.2 L396.3,57.8 L397.3,56.2 L398.3,54.5 L399.3,52.7 L400.3,50.1 L401.3,49.5 L402.3,48.9 L403.3,49.1 L404.3,47.2 L405.3,45.4 L406.3,44.0 L407.3,44.6 L408.3,44.4 L409.3,43.5 L410.3,43.0 L411.3,42.7 L412.3,42.9 L413.3,42.7 L414.3,43.8 L415.3,44.2 L416.3,43.6 L417.3,43.3 L418.3,44.5 L419.3,44.3 L420.3,43.8 L421.3,43.6 L422.3,42.8 L423.3,42.4 L424.3,42.9 L425.3,45.0 L426.3,45.3 L427.3,46.2 L428.3,46.2 L429.3,48.5 L430.3,51.5 L431.3,53.5 L432.3,54.6 L433.3,56.0 L434.3,58.2 L435.3,60.6 L436.3,62.4 L437.3,64.9 L438.3,67.6 L439.3,69.8 L440.3,72.3 L441.3,73.7 L442.3,75.9 L443.3,76.5 L444.3,77.9 L445.3,80.1 L446.3,82.6 L447.3,85.2 L448.3,86.7 L449.3,89.3 L450.3,91.1 L451.3,92.8 L452.3,93.3 L453.3,93.4 L454.3,92.8 L455.3,92.6 L456.3,92.1 L457.3,92.0 L458.3,92.3 L459.3,93.6 L460.3,95.2 L461.3,96.4 L462.3,98.1 L463.3,99.7 L464.3,102.2 L465.3,103.6 L466.3,103.8 L467.3,102.7 L468.3,102.5 L469.3,103.1 L470.3,105.7 L471.3,107.5 L472.3,107.8 L473.3,106.4 L474.3,104.0 L475.3,103.2 L476.3,103.2 L477.3,103.7 L478.3,104.5 L479.3,104.6 L480.3,105.7 L481.3,106.5 L482.3,107.8 L483.3,107.4 L484.3,107.3 L485.3,106.6 L486.3,106.2 L487.3,105.6 L488.3,105.0 L489.3,104.4 L490.3,104.0 L491.3,103.7 L492.3,104.2 L493.3,104.6 L494.3,105.9 L495.3,106.2 L496.3,107.9 L497.3,108.5 L498.3,110.0 L499.3,110.4 L500.3,110.9 L501.3,111.3 L502.3,110.8 L503.3,109.9 L504.3,108.7 L505.3,109.0 L506.3,109.2 L507.3,109.3 L508.3,109.6 L509.3,110.1 L510.3,112.8 L511.3,113.5 L512.3,115.3 L513.3,115.5 L514.3,116.3 L515.3,117.0 L516.3,117.8 L517.3,119.3 L518.3,119.7 L519.3,120.1 L520.3,120.3 L521.3,120.3 L522.3,119.6 L523.3,119.6 L524.3,118.9 L525.3,119.5 L526.3,119.4 L527.3,120.0 L528.3,120.4 L529.3,121.8 L530.3,122.9 L531.3,122.6 L532.3,122.0 L533.3,121.2 L534.3,121.3 L535.3,121.2 L536.3,120.8 L537.3,121.5 L538.3,121.7 L539.3,122.9 L540.3,122.3 L541.3,122.1 L542.3,121.8 L543.3,122.6 L544.3,123.7 L545.3,123.8 L546.3,123.6 L547.3,122.6 L548.3,121.6 L549.3,121.0 L550.3,121.1 L551.3,121.6 L552.3,121.5 L553.3,121.4 L554.3,121.1 L555.3,120.2 L556.3,119.9 L557.3,120.1 L558.3,120.6 L559.3,121.1 L560.3,122.0 L561.3,122.0 L562.3,121.8 L563.3,121.5 L564.3,121.9 L565.3,121.9 L566.3,120.8 L567.3,120.0 L568.3,119.5 L569.3,119.0 L570.3,117.5 L571.3,116.2 L572.3,116.2 L573.3,116.8 L574.3,116.7 L575.3,117.1 L576.3,116.4 L577.3,116.2 L578.3,114.6 L579.3,113.8 L580.3,113.8 L581.3,113.9 L582.3,114.0 L583.3,113.9 L584.3,113.9 L585.3,113.8 L586.3,113.4 L587.3,113.9 L588.3,115.0 L589.3,115.4 L590.3,115.2 L591.3,115.1 L592.3,114.8 L593.3,115.2 L594.3,115.0 L595.3,115.2 L596.3,114.9 L597.3,114.5 L598.3,114.2 L599.3,114.8 L600.3,115.7 L601.3,116.1 L602.3,115.7 L603.3,115.4 L604.3,115.7 L605.3,115.3 L606.3,115.7 L607.3,114.9 L608.3,115.9 L609.3,115.7 L610.3,115.9 L611.3,115.3 L612.3,115.5 L613.3,116.3 L614.3,115.9 L615.3,116.2 L616.3,117.7 L617.3,117.7 L618.3,117.6 L619.3,115.6 L620.3,115.8 L621.3,114.5 L622.3,113.9 L623.3,114.0 L624.3,115.1 L625.3,116.7 L626.3,116.6 L627.3,117.1 L628.3,118.2 L629.3,118.6 L630.3,118.7 L631.3,117.9 L632.3,118.8 L633.3,120.3 L634.3,121.2 L635.3,121.7 L636.3,122.2 L637.3,124.1 L638.3,125.6 L639.3,124.9 L640.3,124.2 L641.3,123.8 L642.3,125.7 L643.3,126.2 L644.3,127.9 L645.3,128.6 L646.3,129.7 L647.3,129.6 L648.3,130.0 L649.3,130.5 L650.3,131.8 L651.3,132.8 L652.3,133.1 L653.3,133.8 L654.3,134.4 L655.3,135.2 L656.3,134.9 L657.3,135.0 L658.3,135.0 L659.3,133.7 L660.3,133.8 L661.3,134.3 L662.3,136.2 L663.3,137.0 L664.3,137.3 L665.3,137.7 L666.3,136.3 L667.3,136.1 L668.3,136.3"/>
<path class="curve" stroke="#ff0000" stroke-width="4.3" d="M315.3,80.1 L316.3,80.3 L317.3,80.4 L318.3,80.6 L319.3,80.7 L320.3,80.8 L321.3,81.0 L322.3,81.1 L323.3,81.3 L324.3,81.4 L325.3,81.5 L326.3,81.7 L327.3,81.8 L328.3,81.9 L329.3,82.1 L330.3,82.2 L331.3,82.3 L332.3,82.4 L333.3,82.6 L334.3,82.7 L335.3,82.8 L336.3,82.9 L337.3,83.0 L338.3,83.1 L339.3,83.2 L340.3,83.3 L341.3,83.4 L342.3,83.5 L343.3,83.6 L344.3,83.6 L345.3,83.7 L346.3,83.8 L347.3,83.9 L348.3,83.9 L349.3,84.0 L350.3,84.1 L351.3,84.1 L352.3,84.2 L353.3,84.2 L354.3,84.3 L355.3,84.3 L356.3,84.3 L357.3,84.3 L358.3,84.4 L359.3,84.4 L360.3,84.4 L361.3,84.4 L362.3,84.4 L363.3,84.4 L364.3,84.3 L365.3,84.2 L366.3,84.1 L367.3,84.0 L368.3,83.9 L369.3,83.8 L370.3,83.6 L371.3,83.5 L372.3,83.2 L373.3,83.0 L374.3,82.7 L375.3,82.3 L376.3,81.8 L377.3,81.2 L378.3,80.6 L379.3,80.0 L380.3,79.3 L381.3,78.6 L382.3,77.9 L383.3,77.1 L384.3,76.2 L385.3,75.3 L386.3,74.3 L387.3,73.2 L388.3,72.1 L389.3,71.0 L390.3,69.8 L391.3,68.6 L392.3,67.4 L393.3,66.2 L394.3,64.8 L395.3,63.4 L396.3,62.0 L397.3,60.5 L398.3,59.0 L399.3,57.4 L400.3,55.8 L401.3,54.2 L402.3,52.7 L403.3,51.1 L404.3,49.4 L405.3,47.8 L406.3,46.2 L407.3,44.6 L408.3,43.0 L409.3,41.5 L410.3,40.3 L411.3,39.1 L412.3,38.1 L413.3,37.3 L414.3,36.7 L415.3,36.3 L416.3,36.0 L417.3,36.1 L418.3,36.5 L419.3,37.0 L420.3,37.8 L421.3,38.9 L422.3,40.2 L423.3,41.6 L424.3,43.1 L425.3,44.8 L426.3,46.7 L427.3,48.9 L428.3,51.2 L429.3,53.7 L430.3,56.1 L431.3,58.4 L432.3,60.8 L433.3,63.2 L434.3,65.6 L435.3,67.9 L436.3,70.2 L437.3,72.3 L438.3,74.3 L439.3,76.3 L440.3,78.2 L441.3,80.0 L442.3,81.7 L443.3,83.3 L444.3,84.8 L445.3,86.1 L446.3,87.4 L447.3,88.5 L448.3,89.5 L449.3,90.5 L450.3,91.3 L451.3,92.0 L452.3,92.7 L453.3,93.3 L454.3,93.9 L455.3,94.4 L456.3,94.8 L457.3,95.2 L458.3,95.6 L459.3,96.0 L460.3,96.3 L461.3,96.6 L462.3,96.9 L463.3,97.2 L464.3,97.5 L465.3,97.7 L466.3,98.0 L467.3,98.2 L468.3,98.4 L469.3,98.7 L470.3,98.9 L471.3,99.2 L472.3,99.4 L473.3,99.7 L474.3,99.9 L475.3,100.2 L476.3,100.5 L477.3,100.7 L478.3,101.1 L479.3,101.4 L480.3,101.7 L481.3,102.0 L482.3,102.4 L483.3,102.7 L484.3,103.1 L485.3,103.4 L486.3,103.8 L487.3,104.2 L488.3,104.6 L489.3,105.0 L490.3,105.4 L491.3,105.8 L492.3,106.2 L493.3,106.7 L494.3,107.1 L495.3,107.5 L496.3,108.0 L497.3,108.4 L498.3,108.8 L499.3,109.2 L500.3,109.6 L501.3,110.0 L502.3,110.4 L503.3,110.8 L504.3,111.1 L505.3,111.5 L506.3,111.8 L507.3,112.2 L508.3,112.5 L509.3,112.8 L510.3,113.2 L511.3,113.5 L512.3,113.8 L513.3,114.1 L514.3,114.4 L515.3,114.7 L516.3,115.0 L517.3,115.3 L518.3,115.6 L519.3,115.8 L520.3,116.1 L521.3,116.3 L522.3,116.6 L523.3,116.8 L524.3,117.0 L525.3,117.3 L526.3,117.5 L527.3,117.7 L528.3,117.9 L529.3,118.1 L530.3,118.2 L531.3,118.4 L532.3,118.5 L533.3,118.7 L534.3,118.8 L535.3,119.0 L536.3,119.1 L537.3,119.2 L538.3,119.3 L539.3,119.4 L540.3,119.5 L541.3,119.6 L542.3,119.6 L543.3,119.6 L544.3,119.6 L545.3,119.6 L546.3,119.6 L547.3,119.6 L548.3,119.6 L549.3,119.6 L550.3,119.6 L551.3,119.5 L552.3,119.5 L553.3,119.5 L554.3,119.5 L555.3,119.5 L556.3,119.5 L557.3,119.4 L558.3,119.3 L559.3,119.3 L560.3,119.2 L561.3,119.0 L562.3,118.9 L563.3,118.8 L564.3,118.7 L565.3,118.5 L566.3,118.4 L567.3,118.3 L568.3,118.2 L569.3,118.0 L570.3,117.9 L571.3,117.8 L572.3,117.6 L573.3,117.5 L574.3,117.3 L575.3,117.2 L576.3,117.0 L577.3,116.8 L578.3,116.7 L579.3,116.5 L580.3,116.4 L581.3,116.2 L582.3,116.0 L583.3,115.8 L584.3,115.6 L585.3,115.4 L586.3,115.3 L587.3,115.1 L588.3,114.9 L589.3,114.7 L590.3,114.5 L591.3,114.3 L592.3,114.1 L593.3,114.0 L594.3,113.8 L595.3,113.6 L596.3,113.4 L597.3,113.3 L598.3,113.1 L599.3,113.0 L600.3,112.9 L601.3,112.8 L602.3,112.6 L603.3,112.5 L604.3,112.5 L605.3,112.4 L606.3,112.3 L607.3,112.3 L608.3,112.3 L609.3,112.4 L610.3,112.6 L611.3,112.8 L612.3,113.1 L613.3,113.3 L614.3,113.6 L615.3,113.9 L616.3,114.2 L617.3,114.6 L618.3,115.1 L619.3,115.5 L620.3,116.0 L621.3,116.5 L622.3,116.9 L623.3,117.4 L624.3,117.9 L625.3,118.4 L626.3,119.0 L627.3,119.5 L628.3,120.0 L629.3,120.6 L630.3,121.1 L631.3,121.6 L632.3,122.2 L633.3,122.7 L634.3,123.2 L635.3,123.7 L636.3,124.2 L637.3,124.8 L638.3,125.3 L639.3,125.8 L640.3,126.2 L641.3,126.7 L642.3,127.1 L643.3,127.5 L644.3,128.0 L645.3,128.4 L646.3,128.8 L647.3,129.1 L648.3,129.5 L649.3,129.8 L650.3,130.2 L651.3,130.5 L652.3,130.8 L653.3,131.1 L654.3,131.3 L655.3,131.6 L656.3,131.8 L657.3,132.1 L658.3,132.3 L659.3,132.5 L660.3,132.7 L661.3,132.8 L662.3,133.0 L663.3,133.2 L664.3,133.3 L665.3,133.4 L666.3,133.6 L667.3,133.7 L668.3,133.8"/>
<path class="curve" stroke="#858585" stroke-width="3.6" d="M315.3,154.3 L316.3,154.1 L317.3,154.4 L318.3,154.3 L319.3,154.4 L320.3,154.3 L321.3,154.2 L322.3,154.0 L323.3,153.8 L324.3,154.0 L325.3,153.9 L326.3,154.0 L327.3,154.1 L328.3,154.3 L329.3,154.4 L330.3,154.4 L331.3,154.6 L332.3,154.5 L333.3,154.9 L334.3,154.5 L335.3,154.6 L336.3,154.6 L337.3,154.5 L338.3,154.3 L339.3,154.0 L340.3,153.9 L341.3,153.9 L342.3,154.1 L343.3,153.9 L344.3,154.0 L345.3,154.0 L346.3,153.7 L347.3,153.6 L348.3,153.6 L349.3,153.8 L350.3,153.8 L351.3,153.8 L352.3,153.7 L353.3,153.7 L354.3,153.8 L355.3,153.9 L356.3,154.1 L357.3,154.2 L358.3,154.3 L359.3,154.3 L360.3,154.4 L361.3,154.4 L362.3,154.4 L363.3,154.7 L364.3,154.6 L365.3,154.4 L366.3,154.3 L367.3,154.3 L368.3,154.3 L369.3,154.1 L370.3,154.1 L371.3,154.1 L372.3,154.1 L373.3,153.7 L374.3,153.6 L375.3,153.5 L376.3,153.4 L377.3,153.3 L378.3,153.6 L379.3,153.6 L380.3,153.5 L381.3,153.4 L382.3,153.4 L383.3,153.7 L384.3,153.7 L385.3,153.8 L386.3,154.0 L387.3,153.8 L388.3,153.5 L389.3,153.6 L390.3,153.8 L391.3,153.7 L392.3,153.5 L393.3,153.5 L394.3,153.5 L395.3,153.4 L396.3,153.6 L397.3,153.8 L398.3,154.1 L399.3,153.9 L400.3,153.9 L401.3,154.1 L402.3,154.1 L403.3,154.1 L404.3,154.3 L405.3,154.4 L406.3,154.4 L407.3,154.5 L408.3,154.3 L409.3,154.4 L410.3,154.4 L411.3,154.2 L412.3,154.7 L413.3,154.7 L414.3,154.8 L415.3,154.7 L416.3,154.6 L417.3,154.6 L418.3,154.7 L419.3,154.6 L420.3,154.8 L421.3,154.7 L422.3,154.3 L423.3,154.1 L424.3,154.1 L425.3,154.1 L426.3,153.8 L427.3,153.6 L428.3,153.8 L429.3,153.7 L430.3,153.6 L431.3,153.6 L432.3,153.6 L433.3,153.6 L434.3,153.3 L435.3,153.2 L436.3,153.0 L437.3,153.3 L438.3,153.1 L439.3,153.1 L440.3,152.9 L441.3,152.8 L442.3,153.0 L443.3,153.1 L444.3,153.2 L445.3,153.2 L446.3,153.5 L447.3,153.6 L448.3,153.5 L449.3,153.7 L450.3,153.8 L451.3,154.0 L452.3,154.1 L453.3,154.2 L454.3,154.1 L455.3,154.3 L456.3,154.3 L457.3,154.1 L458.3,154.2 L459.3,154.1 L460.3,154.0 L461.3,153.9 L462.3,154.1 L463.3,154.2 L464.3,154.3 L465.3,154.5 L466.3,154.5 L467.3,154.3 L468.3,154.0 L469.3,153.8 L470.3,153.9 L471.3,154.0 L472.3,153.5 L473.3,153.5 L474.3,153.4 L475.3,153.1 L476.3,153.2 L477.3,153.5 L478.3,153.7 L479.3,153.9 L480.3,153.8 L481.3,153.7 L482.3,154.0 L483.3,154.0 L484.3,154.4 L485.3,154.5 L486.3,154.6 L487.3,154.7 L488.3,154.7 L489.3,154.6 L490.3,154.4 L491.3,154.6 L492.3,154.5 L493.3,154.5 L494.3,154.2 L495.3,154.1 L496.3,154.2 L497.3,154.1 L498.3,153.9 L499.3,154.0 L500.3,154.4 L501.3,154.2 L502.3,153.8 L503.3,153.5 L504.3,153.4 L505.3,153.4 L506.3,153.2 L507.3,153.1 L508.3,153.1 L509.3,153.1 L510.3,152.9 L511.3,153.0 L512.3,153.3 L513.3,153.4 L514.3,153.8 L515.3,153.4 L516.3,153.4 L517.3,153.4 L518.3,153.6 L519.3,153.6 L520.3,153.7 L521.3,153.8 L522.3,153.8 L523.3,154.0 L524.3,153.7 L525.3,154.0 L526.3,154.0 L527.3,154.2 L528.3,154.2 L529.3,154.4 L530.3,154.6 L531.3,154.3 L532.3,154.1 L533.3,154.1 L534.3,154.2 L535.3,154.0 L536.3,154.3 L537.3,154.3 L538.3,154.0 L539.3,154.0 L540.3,153.8 L541.3,154.1 L542.3,154.2 L543.3,154.1 L544.3,154.0 L545.3,154.1 L546.3,153.8 L547.3,153.7 L548.3,153.9 L549.3,153.7 L550.3,153.7 L551.3,153.7 L552.3,153.8 L553.3,153.8 L554.3,153.9 L555.3,153.9 L556.3,154.0 L557.3,154.0 L558.3,154.0 L559.3,153.9 L560.3,153.8 L561.3,153.5 L562.3,153.5 L563.3,153.4 L564.3,153.4 L565.3,153.6 L566.3,153.6 L567.3,153.3 L568.3,153.1 L569.3,153.5 L570.3,153.7 L571.3,153.9 L572.3,153.8 L573.3,154.0 L574.3,153.8 L575.3,153.7 L576.3,153.6 L577.3,154.0 L578.3,154.0 L579.3,153.7 L580.3,153.7 L581.3,153.6 L582.3,153.6 L583.3,153.4 L584.3,153.6 L585.3,153.6 L586.3,153.5 L587.3,153.5 L588.3,153.6 L589.3,153.5 L590.3,153.4 L591.3,153.5 L592.3,153.7 L593.3,153.5 L594.3,153.4 L595.3,153.4 L596.3,153.6 L597.3,153.6 L598.3,153.7 L599.3,153.9 L600.3,153.9 L601.3,154.1 L602.3,154.2 L603.3,154.3 L604.3,154.5 L605.3,154.2 L606.3,154.1 L607.3,154.0 L608.3,154.0 L609.3,154.0 L610.3,153.9 L611.3,153.5 L612.3,153.5 L613.3,153.4 L614.3,153.4 L615.3,153.6 L616.3,153.5 L617.3,153.7 L618.3,153.8 L619.3,153.7 L620.3,153.8 L621.3,153.8 L622.3,153.8 L623.3,154.0 L624.3,153.8 L625.3,153.7 L626.3,153.7 L627.3,153.7 L628.3,153.7 L629.3,153.7 L630.3,153.6 L631.3,153.5 L632.3,153.7 L633.3,153.6 L634.3,153.9 L635.3,153.7 L636.3,153.9 L637.3,153.7 L638.3,153.3 L639.3,153.3 L640.3,153.2 L641.3,153.6 L642.3,153.6 L643.3,153.5 L644.3,153.4 L645.3,153.6 L646.3,153.5 L647.3,153.4 L648.3,153.7 L649.3,153.8 L650.3,154.0 L651.3,153.9 L652.3,154.1 L653.3,154.1 L654.3,154.2 L655.3,154.1 L656.3,154.1 L657.3,154.2 L658.3,154.3 L659.3,154.3 L660.3,154.2 L661.3,154.2 L662.3,154.2 L663.3,154.2 L664.3,154.0 L665.3,154.1 L666.3,154.2 L667.3,154.5 L668.3,154.4"/>
<g class="ax" style="stroke-width:1.55">
<line x1="314.55" y1="187.3" x2="669.05" y2="187.3"/>
<line x1="315.3" y1="187.3" x2="315.3" y2="180.3"/>
<line x1="403.6" y1="187.3" x2="403.6" y2="180.3"/>
<line x1="491.8" y1="187.3" x2="491.8" y2="180.3"/>
<line x1="580.0" y1="187.3" x2="580.0" y2="180.3"/>
<line x1="668.3" y1="187.3" x2="668.3" y2="180.3"/>
<line x1="359.4" y1="187.3" x2="359.4" y2="183.3"/>
<line x1="447.7" y1="187.3" x2="447.7" y2="183.3"/>
<line x1="535.9" y1="187.3" x2="535.9" y2="183.3"/>
<line x1="624.2" y1="187.3" x2="624.2" y2="183.3"/>
</g>
<g class="tl">
<text x="315.3" y="221">5</text>
<text x="403.6" y="221">6</text>
<text x="491.8" y="221">7</text>
<text x="580.0" y="221">8</text>
<text x="668.3" y="221">9</text>
</g>

<!-- pattern b (green) -->
<path class="curve" stroke="#008000" stroke-width="4.5" d="M51.3,474.9 L51.8,474.9 L52.3,474.9 L52.8,474.9 L53.3,474.9 L53.8,474.8 L54.3,474.8 L54.8,474.8 L55.3,474.7 L55.8,474.7 L56.3,474.7 L56.8,474.7 L57.3,474.7 L57.8,474.7 L58.3,474.7 L58.8,474.6 L59.3,474.6 L59.8,474.6 L60.3,474.6 L60.4,474.6 L60.8,474.5 L61.3,474.4 L61.8,474.3 L62.3,474.2 L62.8,474.1 L63.3,474.1 L63.8,474.0 L64.3,473.9 L64.8,473.8 L65.3,473.7 L65.8,473.6 L66.3,473.5 L66.8,473.3 L67.3,473.1 L67.8,472.8 L68.3,472.6 L68.8,472.4 L69.3,472.2 L69.4,472.1 L69.8,471.7 L70.3,471.2 L70.8,470.7 L71.0,470.5 L71.3,469.8 L71.8,468.7 L72.0,468.1 L72.3,460.4 L72.8,444.9 L73.3,429.4 L73.6,419.5 L73.8,409.4 L74.3,381.1 L74.8,352.9 L75.2,330.3 L75.3,333.4 L75.8,348.8 L76.3,364.2 L76.8,379.6 L77.3,408.0 L77.8,436.3 L78.3,464.7 L78.3,465.8 L78.8,467.5 L79.3,469.2 L79.4,469.6 L79.8,470.2 L80.3,471.0 L80.8,471.8 L81.0,472.1 L81.3,472.2 L81.8,472.5 L82.3,472.7 L82.8,472.9 L83.3,473.2 L83.8,473.4 L84.1,473.5 L84.3,473.6 L84.8,473.7 L85.3,473.7 L85.8,473.8 L86.3,473.9 L86.8,474.0 L87.3,474.1 L87.8,474.2 L88.3,474.3 L88.8,474.4 L89.3,474.5 L89.8,474.6 L90.0,474.6 L90.3,474.6 L90.8,474.6 L91.3,474.7 L91.8,474.7 L92.3,474.7 L92.8,474.7 L93.3,474.7 L93.8,474.7 L94.3,474.7 L94.8,474.7 L95.3,474.8 L95.8,474.8 L96.3,474.8 L96.8,474.8 L97.3,474.8 L97.8,474.9 L98.3,474.8 L98.8,474.8 L99.3,474.8 L99.8,474.9 L100.3,474.9 L100.8,475.0 L101.3,475.0 L101.8,475.0 L102.3,475.0 L102.8,475.0 L103.3,475.0 L103.8,475.1 L104.3,475.1 L104.8,475.1 L105.2,475.1 L105.3,475.1 L105.8,475.1 L106.3,475.1 L106.8,475.1 L107.3,475.1 L107.8,475.1 L108.3,475.1 L108.8,475.1 L109.3,475.1 L109.8,475.1 L110.3,475.1 L110.8,475.2 L111.3,475.2 L111.8,475.2 L112.3,475.2 L112.8,475.2 L113.3,475.2 L113.8,475.2 L114.3,475.2 L114.8,475.2 L115.3,475.2 L115.8,475.2 L116.3,475.2 L116.8,475.2 L117.3,475.2 L117.8,475.2 L118.3,475.2 L118.8,475.2 L119.3,475.2 L119.8,475.3 L120.3,475.3 L120.8,475.3 L121.3,475.3 L121.8,475.3 L122.3,475.3 L122.8,475.3 L123.3,475.3 L123.8,475.3 L124.3,475.3 L124.8,475.3 L125.3,475.3 L125.8,475.3 L126.3,475.3 L126.8,475.3 L127.3,475.3 L127.8,475.3 L128.3,475.3 L128.8,475.3 L129.3,475.3 L129.8,475.3 L130.3,475.3 L130.8,475.3 L131.3,475.3 L131.8,475.3 L132.3,475.3 L132.8,475.3 L133.3,475.3 L133.8,475.3 L134.3,475.3 L134.8,475.3 L135.2,475.3 L135.3,475.3 L135.8,475.4 L136.3,475.4 L136.8,475.4 L137.3,475.3 L137.8,475.3 L138.3,475.3 L138.8,475.3 L139.3,475.3 L139.8,475.3 L140.3,475.3 L140.8,475.3 L141.3,475.2 L141.8,475.0 L142.3,474.7 L142.8,474.3 L143.3,473.7 L143.8,472.9 L144.3,472.1 L144.8,471.4 L145.3,471.1 L145.8,471.3 L146.3,471.8 L146.8,472.6 L147.3,473.4 L147.8,474.1 L148.3,474.6 L148.8,474.9 L149.3,475.1 L149.8,475.2 L150.3,475.3 L150.8,475.3 L151.3,475.3 L151.8,475.3 L152.3,475.3 L152.8,475.4 L153.3,475.4 L153.8,475.4 L154.3,475.4 L154.8,475.4 L155.3,475.4 L155.8,475.4 L156.3,475.4 L156.8,475.4 L157.3,475.4 L157.8,475.4 L158.3,475.4 L158.8,475.4 L159.3,475.4 L159.8,475.4 L160.3,475.4 L160.8,475.4 L161.3,475.4 L161.8,475.4 L162.3,475.4 L162.8,475.4 L163.3,475.4 L163.8,475.4 L164.3,475.4 L164.8,475.4 L165.3,475.4 L165.8,475.4 L166.3,475.4 L166.8,475.4 L167.3,475.4 L167.8,475.3 L168.3,475.3 L168.8,475.3 L169.3,475.4 L169.8,475.3 L170.3,475.3 L170.8,475.3 L171.3,475.4 L171.8,475.3 L172.3,475.4 L172.8,475.4 L173.3,475.4 L173.8,475.4 L174.3,475.4 L174.8,475.4 L175.3,475.4 L175.8,475.3 L176.3,475.3 L176.8,475.3 L177.3,475.3 L177.8,475.3 L178.3,475.3 L178.8,475.3 L179.3,475.3 L179.8,475.3 L180.3,475.3 L180.8,475.3 L181.3,475.3 L181.8,475.3 L182.3,475.3 L182.8,475.3 L183.3,475.3 L183.8,475.3 L184.3,475.3 L184.8,475.2 L185.3,475.2 L185.8,475.2 L186.3,475.1 L186.8,475.1 L187.3,474.9 L187.8,474.7 L188.3,474.2 L188.8,473.4 L189.3,472.2 L189.8,470.6 L190.3,468.8 L190.8,467.2 L191.3,466.3 L191.8,466.3 L192.3,467.0 L192.8,467.7 L193.3,468.0 L193.8,467.7 L194.3,466.9 L194.8,466.2 L195.3,466.2 L195.8,467.1 L196.3,468.7 L196.8,470.5 L197.3,472.1 L197.8,473.3 L198.3,474.1 L198.8,474.6 L199.3,474.9 L199.8,475.1 L200.3,475.1 L200.8,475.2 L201.3,475.2 L201.8,475.2 L202.3,475.2 L202.8,475.2 L203.3,475.3 L203.8,475.3 L204.3,475.3 L204.8,475.3 L205.3,475.3 L205.8,475.3 L206.3,475.3 L206.8,475.3 L207.3,475.2 L207.8,475.2 L208.3,475.2 L208.8,475.2 L209.3,475.2 L209.8,475.2 L210.3,475.2 L210.8,475.1 L211.3,475.0 L211.8,474.7 L212.3,474.1 L212.8,473.3 L213.3,472.1 L213.8,470.9 L214.3,469.9 L214.8,469.6 L215.3,469.8 L215.8,470.1 L216.3,469.9 L216.8,469.3 L217.3,468.2 L217.8,467.2 L218.3,466.9 L218.8,467.5 L219.3,468.8 L219.8,470.5 L220.3,472.0 L220.8,473.3 L221.3,474.1 L221.8,474.7 L222.3,474.9 L222.8,475.1 L223.3,475.1 L223.8,475.2 L224.3,475.2 L224.8,475.3 L225.3,475.3 L225.8,475.3 L226.3,475.3 L226.8,475.3 L227.3,475.3 L227.8,475.3 L228.3,475.3 L228.8,475.3 L229.3,475.3 L229.8,475.3 L230.3,475.3 L230.8,475.3 L231.3,475.3 L231.8,475.3 L232.3,475.3 L232.8,475.3 L233.3,475.3 L233.8,475.3 L234.3,475.4 L234.8,475.3 L235.3,475.3 L235.8,475.3 L236.3,475.3 L236.8,475.3 L237.3,475.3 L237.8,475.3 L238.3,475.3 L238.8,475.4 L239.3,475.3 L239.8,475.3 L240.3,475.3 L240.8,475.4 L241.3,475.3 L241.8,475.3 L242.3,475.3 L242.8,475.3 L243.3,475.3 L243.8,475.3 L244.3,475.3 L244.8,475.3 L245.3,475.3 L245.8,475.3 L246.3,475.2 L246.8,475.2 L247.3,475.2 L247.8,475.2 L248.3,475.1 L248.8,474.9 L249.3,474.6 L249.8,474.1 L250.3,473.3 L250.8,472.4 L251.3,471.4 L251.8,470.8 L252.3,470.7 L252.8,471.3 L253.3,472.1 L253.8,473.1 L254.3,473.9 L254.8,474.4 L255.3,474.6 L255.8,474.6 L256.3,474.4 L256.8,473.8 L257.3,472.9 L257.8,471.7 L258.3,470.3 L258.8,469.0 L259.3,468.2 L259.8,468.3 L260.3,469.1 L260.8,470.2 L261.3,471.2 L261.8,471.5 L262.3,470.9 L262.8,469.2 L263.3,466.8 L263.8,464.5 L264.3,463.3 L264.8,463.9 L265.3,466.0 L265.8,468.8 L266.3,471.2 L266.8,473.0 L267.3,474.1 L267.8,474.7 L268.3,474.9 L268.8,475.1 L269.3,475.1 L269.8,475.2 L270.3,475.2 L270.8,475.2 L271.3,475.2 L271.8,475.2 L272.3,475.3 L272.8,475.3 L273.3,475.3 L273.8,475.3 L274.3,475.3 L274.8,475.3 L275.3,475.3 L275.8,475.3 L276.3,475.3 L276.8,475.3 L277.3,475.3 L277.8,475.3 L278.3,475.3 L278.8,475.4 L279.3,475.4 L279.8,475.4 L280.3,475.4 L280.8,475.4 L281.3,475.4 L281.8,475.4 L282.3,475.4 L282.8,475.4 L283.3,475.4 L283.8,475.4 L284.3,475.4 L284.8,475.4 L285.3,475.4 L285.8,475.4 L286.3,475.4 L286.8,475.4 L287.3,475.4 L287.8,475.4 L288.3,475.4 L288.8,475.4 L289.3,475.3 L289.8,475.2 L290.3,475.2 L290.8,475.2 L291.3,475.2 L291.8,475.3 L292.3,475.3 L292.8,475.3 L293.3,475.3 L293.8,475.3 L294.3,475.3 L294.8,475.3 L295.3,475.3 L295.8,475.3 L296.3,475.3 L296.8,475.3 L297.3,475.3 L297.8,475.4 L298.3,475.4 L298.8,475.4 L299.3,475.3 L299.8,475.3 L300.3,475.3 L300.8,475.3 L301.3,475.3 L301.8,475.4 L302.3,475.4 L302.8,475.4 L303.3,475.4 L303.8,475.4 L304.3,475.4 L304.8,475.4 L305.3,475.4 L305.8,475.4 L306.3,475.3 L306.8,475.3 L307.3,475.2 L307.8,475.2 L308.3,475.2 L308.8,475.0 L309.3,474.8 L309.8,474.6 L310.3,474.5 L310.8,474.4 L311.3,474.5 L311.8,474.7 L312.3,474.9 L312.8,475.0 L313.3,475.2 L313.8,475.3 L314.3,475.3 L314.8,475.3 L315.3,475.3 L315.8,475.3 L316.3,475.3 L316.8,475.4 L317.3,475.3 L317.8,475.4 L318.3,475.4 L318.8,475.4 L319.3,475.5 L319.8,475.5 L320.3,475.4 L320.8,475.4 L321.3,475.3 L321.8,475.3 L322.3,475.4 L322.8,475.3 L323.3,475.3 L323.8,475.4 L324.3,475.5 L324.8,475.5 L325.3,475.5 L325.8,475.6 L326.3,475.5 L326.8,475.4 L327.3,475.4 L327.8,475.4 L328.3,475.4 L328.8,475.3 L329.3,475.3 L329.8,475.3 L330.3,475.3 L330.8,475.3 L331.3,475.2 L331.8,475.1 L332.3,474.9 L332.8,474.7 L333.3,474.5 L333.8,474.3 L334.3,474.3 L334.8,474.3 L335.3,474.5 L335.8,474.8 L336.3,475.0 L336.8,475.2 L337.3,475.3 L337.8,475.3 L338.3,475.3 L338.8,475.3 L339.3,475.3 L339.8,475.3 L340.3,475.3 L340.8,475.3 L341.3,475.4 L341.8,475.4 L342.3,475.4 L342.8,475.3 L343.3,475.4 L343.8,475.4 L344.3,475.4 L344.8,475.4 L345.3,475.4 L345.8,475.4 L346.3,475.4 L346.8,475.4 L347.3,475.4 L347.8,475.4 L348.3,475.4 L348.8,475.5 L349.3,475.4 L349.8,475.3 L350.3,475.3 L350.8,475.3 L351.3,475.2 L351.8,475.2 L352.3,475.3 L352.8,475.3 L353.3,475.3 L353.8,475.4 L354.3,475.5 L354.8,475.5 L355.3,475.5 L355.8,475.5 L356.3,475.5 L356.8,475.4 L357.3,475.4 L357.8,475.4 L358.3,475.4 L358.8,475.3 L359.3,475.4 L359.8,475.3 L360.3,475.3 L360.8,475.3 L361.3,475.3 L361.8,475.3 L362.3,475.4 L362.8,475.4 L363.3,475.3 L363.8,475.4 L364.3,475.4 L364.8,475.4 L365.3,475.4 L365.8,475.4 L366.3,475.4 L366.8,475.4 L367.3,475.4 L367.8,475.5 L368.3,475.5 L368.8,475.5 L369.3,475.5 L369.8,475.5 L370.3,475.4 L370.8,475.4 L371.3,475.4 L371.8,475.3 L372.3,475.3 L372.8,475.2 L373.3,475.2 L373.8,475.2 L374.3,475.1 L374.8,475.0 L375.3,474.8 L375.8,474.7 L376.3,474.7 L376.8,474.9 L377.3,475.1 L377.8,475.2 L378.3,475.3 L378.8,475.3 L379.3,475.4 L379.8,475.3 L380.3,475.3 L380.8,475.2 L381.3,475.2 L381.8,475.2 L382.3,475.2 L382.8,475.3 L383.3,475.2 L383.8,475.3 L384.3,475.3 L384.8,475.4 L385.3,475.4 L385.8,475.4 L386.3,475.4 L386.8,475.4 L387.3,475.4 L387.8,475.4 L388.3,475.4 L388.8,475.4 L389.3,475.4 L389.8,475.4 L390.3,475.3 L390.8,475.4 L391.3,475.4 L391.8,475.4 L392.3,475.4 L392.8,475.4 L393.3,475.5 L393.8,475.4 L394.3,475.4 L394.8,475.3 L395.3,475.4 L395.8,475.4 L396.3,475.4 L396.8,475.4 L397.3,475.5 L397.8,475.5 L398.3,475.5 L398.8,475.5 L399.3,475.5 L399.8,475.5 L400.3,475.4 L400.8,475.5 L401.3,475.5 L401.8,475.4 L402.3,475.4 L402.8,475.4 L403.3,475.4 L403.8,475.3 L404.3,475.4 L404.8,475.4 L405.3,475.4 L405.8,475.4 L406.3,475.4 L406.8,475.4 L407.3,475.5 L407.8,475.5 L408.3,475.4 L408.8,475.5 L409.3,475.4 L409.8,475.4 L410.3,475.4 L410.8,475.4 L411.3,475.4 L411.8,475.4 L412.3,475.4 L412.8,475.4 L413.3,475.4 L413.8,475.4 L414.3,475.4 L414.8,475.4 L415.3,475.4 L415.8,475.4 L416.3,475.4 L416.8,475.4 L417.3,475.4 L417.8,475.4 L418.3,475.5 L418.8,475.5 L419.3,475.5 L419.8,475.5 L420.3,475.4 L420.8,475.4 L421.3,475.3 L421.8,475.3 L422.3,475.3 L422.8,475.4 L423.3,475.5 L423.8,475.5 L424.3,475.4 L424.8,475.4 L425.3,475.4 L425.8,475.3 L426.3,475.3 L426.8,475.3 L427.3,475.4 L427.8,475.4 L428.3,475.4 L428.8,475.2 L429.3,475.1 L429.8,475.0 L430.3,474.8 L430.8,474.6 L431.3,474.6 L431.8,474.5 L432.3,474.5 L432.8,474.5 L433.3,474.7 L433.8,474.8 L434.3,475.0 L434.8,475.1 L435.3,475.2 L435.8,475.4 L436.3,475.3 L436.8,475.3 L437.3,475.4 L437.8,475.4 L438.3,475.4 L438.8,475.4 L439.3,475.4 L439.8,475.4 L440.3,475.4 L440.8,475.5 L441.3,475.5 L441.8,475.6 L442.3,475.6 L442.8,475.5 L443.3,475.4 L443.8,475.3 L444.3,475.2 L444.8,475.1 L445.3,475.1 L445.8,474.9 L446.3,474.7 L446.8,474.6 L447.3,474.4 L447.8,474.3 L448.3,474.3 L448.8,474.5 L449.3,474.7 L449.8,474.9 L450.3,475.0 L450.8,475.2 L451.3,475.3 L451.8,475.4 L452.3,475.3 L452.8,475.3 L453.3,475.3 L453.8,475.3 L454.3,475.2 L454.8,475.2 L455.3,475.2 L455.8,475.3 L456.3,475.3 L456.8,475.3 L457.3,475.4 L457.8,475.4 L458.3,475.4 L458.8,475.5 L459.3,475.5 L459.8,475.5 L460.3,475.4 L460.8,475.4 L461.3,475.5 L461.8,475.4 L462.3,475.5 L462.8,475.6 L463.3,475.5 L463.8,475.5 L464.3,475.5 L464.8,475.4 L465.3,475.4 L465.8,475.3 L466.3,475.3 L466.8,475.3 L467.3,475.3 L467.8,475.3 L468.3,475.4 L468.8,475.4 L469.3,475.4 L469.8,475.5 L470.3,475.5 L470.8,475.4 L471.3,475.5 L471.8,475.5 L472.3,475.4 L472.8,475.4 L473.3,475.5 L473.8,475.4 L474.3,475.4 L474.8,475.4 L475.3,475.4 L475.8,475.4 L476.3,475.4 L476.8,475.4 L477.3,475.4 L477.8,475.4 L478.3,475.4 L478.8,475.3 L479.3,475.4 L479.8,475.4 L480.3,475.4 L480.8,475.3 L481.3,475.3 L481.8,475.2 L482.3,475.2 L482.8,475.0 L483.3,474.9 L483.8,474.7 L484.3,474.6 L484.8,474.5 L485.3,474.5 L485.8,474.6 L486.3,474.8 L486.8,474.9 L487.3,475.1 L487.8,475.2 L488.3,475.3 L488.8,475.3 L489.3,475.3 L489.8,475.4 L490.3,475.3 L490.8,475.3 L491.3,475.3 L491.8,475.3 L492.3,475.2 L492.8,475.3 L493.3,475.2 L493.8,475.3 L494.3,475.3 L494.8,475.3 L495.3,475.4 L495.8,475.4 L496.3,475.3 L496.8,475.3 L497.3,475.2 L497.8,475.0 L498.3,474.8 L498.8,474.7 L499.3,474.6 L499.8,474.4 L500.3,474.5 L500.8,474.6 L501.3,474.6 L501.8,474.8 L502.3,474.9 L502.8,475.1 L503.3,475.1 L503.8,475.3 L504.3,475.5 L504.8,475.5 L505.3,475.5 L505.8,475.5 L506.3,475.5 L506.8,475.4 L507.3,475.4 L507.8,475.4 L508.3,475.4 L508.8,475.5 L509.3,475.4 L509.8,475.4 L510.3,475.4 L510.8,475.4 L511.3,475.3 L511.8,475.3 L512.3,475.3 L512.8,475.2 L513.3,475.2 L513.8,475.2 L514.3,475.3 L514.8,475.2 L515.3,475.3 L515.8,475.3 L516.3,475.3 L516.8,475.2 L517.3,475.1 L517.8,475.0 L518.3,474.9 L518.8,474.7 L519.3,474.7 L519.8,474.6 L520.3,474.6 L520.8,474.7 L521.3,474.9 L521.8,475.0 L522.3,475.1 L522.8,475.2 L523.3,475.3 L523.8,475.2 L524.3,475.3 L524.8,475.3 L525.3,475.3 L525.8,475.3 L526.3,475.3 L526.8,475.3 L527.3,475.3 L527.8,475.3 L528.3,475.3 L528.8,475.3 L529.3,475.3 L529.8,475.3 L530.3,475.4 L530.8,475.4 L531.3,475.4 L531.8,475.4 L532.3,475.3 L532.8,475.3 L533.3,475.4 L533.8,475.4 L534.3,475.3 L534.8,475.4 L535.3,475.4 L535.8,475.3 L536.3,475.3 L536.8,475.4 L537.3,475.4 L537.8,475.4 L538.3,475.4 L538.8,475.5 L539.3,475.4 L539.8,475.4 L540.3,475.4 L540.8,475.3 L541.3,475.3 L541.8,475.3 L542.3,475.4 L542.8,475.5 L543.3,475.5 L543.8,475.5 L544.3,475.5 L544.8,475.5 L545.3,475.5 L545.8,475.5 L546.3,475.5 L546.8,475.4 L547.3,475.4 L547.8,475.4 L548.3,475.5 L548.8,475.4 L549.3,475.4 L549.8,475.4 L550.3,475.3 L550.8,475.3 L551.3,475.3 L551.8,475.4 L552.3,475.5 L552.8,475.4 L553.3,475.4 L553.8,475.4 L554.3,475.4 L554.8,475.4 L555.3,475.4 L555.8,475.4 L556.3,475.4 L556.8,475.4 L557.3,475.4 L557.8,475.5 L558.3,475.5 L558.8,475.5 L559.3,475.5 L559.8,475.5 L560.3,475.4 L560.8,475.4 L561.3,475.3 L561.8,475.3 L562.3,475.3 L562.8,475.3 L563.3,475.3 L563.8,475.3 L564.3,475.4 L564.8,475.4 L565.3,475.4 L565.8,475.4 L566.3,475.5 L566.8,475.5 L567.3,475.5 L567.8,475.5 L568.3,475.4 L568.8,475.4 L569.3,475.4 L569.8,475.4 L570.3,475.4 L570.8,475.5 L571.3,475.4 L571.8,475.4 L572.3,475.3 L572.8,475.3 L573.3,475.3 L573.8,475.3 L574.3,475.3 L574.8,475.4 L575.3,475.4 L575.8,475.4 L576.3,475.5 L576.8,475.5 L577.3,475.4 L577.8,475.4 L578.3,475.4 L578.8,475.3 L579.3,475.3 L579.8,475.4 L580.3,475.4 L580.8,475.4 L581.3,475.5 L581.8,475.5 L582.3,475.5 L582.8,475.5 L583.3,475.5 L583.8,475.4 L584.3,475.4 L584.8,475.4 L585.3,475.3 L585.8,475.3 L586.3,475.3 L586.8,475.3 L587.3,475.3 L587.8,475.4 L588.3,475.4 L588.8,475.4 L589.3,475.4 L589.8,475.4 L590.3,475.4 L590.8,475.3 L591.3,475.4 L591.8,475.3 L592.3,475.3 L592.8,475.4 L593.3,475.4 L593.8,475.4 L594.3,475.4 L594.8,475.5 L595.3,475.5 L595.8,475.4 L596.3,475.5 L596.8,475.5 L597.3,475.5 L597.8,475.4 L598.3,475.4 L598.8,475.4 L599.3,475.3 L599.8,475.4 L600.3,475.3 L600.8,475.3 L601.3,475.3 L601.8,475.3 L602.3,475.3 L602.8,475.4 L603.3,475.4 L603.8,475.4 L604.3,475.4 L604.8,475.3 L605.3,475.2 L605.8,475.3 L606.3,475.4 L606.8,475.4 L607.3,475.4 L607.8,475.4 L608.3,475.5 L608.8,475.4 L609.3,475.5 L609.8,475.5 L610.3,475.5 L610.8,475.5 L611.3,475.5 L611.8,475.4 L612.3,475.4 L612.8,475.4 L613.3,475.4 L613.8,475.4 L614.3,475.4 L614.8,475.4 L615.3,475.3 L615.8,475.3 L616.3,475.3 L616.8,475.4 L617.3,475.4 L617.8,475.4 L618.3,475.5 L618.8,475.4 L619.3,475.4 L619.8,475.4 L620.3,475.4 L620.8,475.4 L621.3,475.5 L621.8,475.5 L622.3,475.5 L622.8,475.5 L623.3,475.4 L623.8,475.4 L624.3,475.4 L624.8,475.3 L625.3,475.4 L625.8,475.4 L626.3,475.4 L626.8,475.4 L627.3,475.4 L627.8,475.4 L628.3,475.4 L628.8,475.3 L629.3,475.3 L629.8,475.4 L630.3,475.3 L630.8,475.4 L631.3,475.4 L631.8,475.4 L632.3,475.4 L632.8,475.4 L633.3,475.4 L633.8,475.4 L634.3,475.4 L634.8,475.4 L635.3,475.4 L635.8,475.4 L636.3,475.4 L636.8,475.4 L637.3,475.4 L637.8,475.4 L638.3,475.4 L638.8,475.5 L639.3,475.5 L639.8,475.5 L640.3,475.5 L640.8,475.5 L641.3,475.4 L641.8,475.4 L642.3,475.3 L642.8,475.3 L643.3,475.3 L643.8,475.2 L644.3,475.2 L644.8,475.3 L645.3,475.3 L645.8,475.3 L646.3,475.3 L646.8,475.3 L647.3,475.3 L647.8,475.3 L648.3,475.3 L648.8,475.3 L649.3,475.4 L649.8,475.4 L650.3,475.4 L650.8,475.4 L651.3,475.4 L651.8,475.4 L652.3,475.4 L652.8,475.3 L653.3,475.3 L653.8,475.4 L654.3,475.4 L654.8,475.4 L655.3,475.4 L655.8,475.4 L656.3,475.4 L656.8,475.4 L657.3,475.4 L657.8,475.5 L658.3,475.4 L658.8,475.4 L659.3,475.5 L659.8,475.4 L660.3,475.4 L660.8,475.5 L661.3,475.5 L661.8,475.5 L662.3,475.5 L662.8,475.5 L663.3,475.5 L663.8,475.4 L664.3,475.3 L664.8,475.4 L665.3,475.4 L665.8,475.3 L666.3,475.3 L666.8,475.3 L667.3,475.3 L667.8,475.3 L668.3,475.3 L668.8,475.4 L669.3,475.4 L669.8,475.4 L670.3,475.4 L670.8,475.4 L671.3,475.3 L671.8,475.3 L672.3,475.4 L672.8,475.5 L673.3,475.4 L673.8,475.4 L674.3,475.5 L674.8,475.4 L675.3,475.4 L675.8,475.4 L676.3,475.4 L676.8,475.5 L677.3,475.5 L677.8,475.5 L678.3,475.5 L678.8,475.4 L679.3,475.3 L679.8,475.4 L680.3,475.4 L680.8,475.4 L681.3,475.4 L681.8,475.4 L682.3,475.4 L682.8,475.4 L683.3,475.4 L683.8,475.3 L684.3,475.3 L684.8,475.2 L685.3,475.3 L685.8,475.3 L686.3,475.3 L686.8,475.4 L687.3,475.5 L687.8,475.4 L688.3,475.5 L688.8,475.4 L689.3,475.4 L689.8,475.4 L690.3,475.4 L690.8,475.4 L691.3,475.4 L691.8,475.4 L692.3,475.4 L692.8,475.4 L693.3,475.4 L693.8,475.4 L694.3,475.3 L694.8,475.2 L695.3,475.3 L695.8,475.3 L696.3,475.3 L696.8,475.4 L697.3,475.4 L697.8,475.4 L698.3,475.4 L698.8,475.4 L699.3,475.4 L699.8,475.3 L700.3,475.4 L700.8,475.3 L701.3,475.3 L701.8,475.3 L702.3,475.4 L702.8,475.3 L703.3,475.3 L703.8,475.3 L704.3,475.4 L704.8,475.3 L705.3,475.3 L705.8,475.3 L706.3,475.3 L706.8,475.4 L707.3,475.4 L707.8,475.4 L708.3,475.4 L708.8,475.4 L709.3,475.4 L709.8,475.4 L710.3,475.5 L710.8,475.4 L711.3,475.4 L711.8,475.4 L712.3,475.4 L712.8,475.3 L713.3,475.4 L713.8,475.4 L714.3,475.4 L714.8,475.4 L715.3,475.4 L715.8,475.4 L716.3,475.4 L716.8,475.4 L717.3,475.3 L717.8,475.3 L718.3,475.4 L718.8,475.4 L719.3,475.4 L719.8,475.4 L720.3,475.4 L720.8,475.4 L721.3,475.5 L721.8,475.5 L722.3,475.5 L722.8,475.4 L723.3,475.5 L723.8,475.4 L724.3,475.4 L724.8,475.4 L725.3,475.4 L725.8,475.4 L726.3,475.4 L726.8,475.4 L727.3,475.4 L727.8,475.4 L728.3,475.4 L728.8,475.4 L729.3,475.4 L729.8,475.4 L730.3,475.4 L730.8,475.4 L731.3,475.4 L731.8,475.4 L732.3,475.3 L732.8,475.2 L733.3,475.0 L733.8,474.6 L734.3,474.2 L734.8,473.6 L735.3,473.0 L735.8,472.5 L736.3,472.4 L736.8,472.8 L737.3,473.5 L737.8,474.0 L738.3,474.5 L738.8,474.9 L739.3,474.9 L739.8,474.9 L740.3,474.9 L740.8,474.7 L741.3,474.5 L741.8,474.4 L742.3,474.4 L742.8,474.6 L743.3,474.9 L743.8,475.0 L744.3,475.2 L744.8,475.3 L745.3,475.4 L745.8,475.4 L746.3,475.5 L746.8,475.4 L747.3,475.4 L747.8,475.2 L748.3,475.0 L748.8,474.8 L749.3,474.6 L749.8,474.5 L750.3,474.5 L750.8,474.6 L751.3,474.8 L751.8,475.0 L752.3,475.1 L752.8,475.2 L753.3,475.3 L753.8,475.3 L754.3,475.3 L754.8,475.4 L755.3,475.4 L755.8,475.4 L756.3,475.4 L756.8,475.3 L757.3,475.2 L757.8,475.1 L758.3,474.9 L758.8,474.7 L759.3,474.6 L759.8,474.4 L760.3,474.4 L760.8,474.5 L761.3,474.8 L761.8,475.0 L762.3,475.1 L762.8,475.3 L763.3,475.4 L763.8,475.5 L764.3,475.4 L764.8,475.5 L765.3,475.4 L765.8,475.2 L766.3,475.0 L766.8,474.8 L767.3,474.5 L767.8,474.3 L768.3,474.3 L768.8,474.5 L769.3,474.8 L769.8,475.0 L770.3,475.2 L770.8,475.3 L771.3,475.4 L771.8,475.4 L772.3,475.4 L772.8,475.3 L773.3,475.3 L773.8,475.3 L774.3,475.3 L774.8,475.3 L775.3,475.4 L775.8,475.4 L776.3,475.4 L776.8,475.4 L777.3,475.3 L777.8,475.3 L778.3,475.2 L778.8,475.2 L779.3,475.1 L779.8,475.0 L780.3,474.8 L780.8,474.6 L781.3,474.4 L781.8,474.2 L782.3,474.2 L782.8,474.4 L783.3,474.5 L783.8,474.7 L784.3,474.9 L784.8,475.0 L785.3,475.1 L785.8,475.2 L786.3,475.2 L786.8,475.3 L787.3,475.3 L787.8,475.3 L788.3,475.3 L788.8,475.3 L789.3,475.3 L789.8,475.3 L790.3,475.3 L790.8,475.3 L791.3,475.4 L791.8,475.4 L792.3,475.4 L792.8,475.4 L793.3,475.4 L793.8,475.4 L794.3,475.4 L794.8,475.4 L795.3,475.4 L795.8,475.3 L796.3,475.4 L796.8,475.4 L797.3,475.4 L797.8,475.4 L798.3,475.5 L798.8,475.3 L799.3,475.3 L799.8,475.4 L800.3,475.4 L800.8,475.4 L801.3,475.4 L801.8,475.3 L802.3,475.3 L802.8,475.3 L803.3,475.3 L803.8,475.3 L804.3,475.3 L804.8,475.3 L805.3,475.3 L805.8,475.3 L806.3,475.3 L806.8,475.4 L807.3,475.4 L807.8,475.4 L808.3,475.4 L808.8,475.4 L809.3,475.3 L809.8,475.3 L810.3,475.3 L810.8,475.3 L811.3,475.3 L811.8,475.4 L812.3,475.4 L812.8,475.4 L813.3,475.4 L813.8,475.3 L814.3,475.3 L814.8,475.4 L815.3,475.4 L815.8,475.5 L816.3,475.5 L816.8,475.5 L817.3,475.4 L817.8,475.4 L818.3,475.3 L818.8,475.3 L819.3,475.2 L819.8,475.3 L820.3,475.4 L820.8,475.4 L821.3,475.4 L821.8,475.4 L822.3,475.4 L822.8,475.3 L823.3,475.4 L823.8,475.4 L824.3,475.4 L824.8,475.4 L825.3,475.4 L825.8,475.3 L826.3,475.3 L826.8,475.3 L827.3,475.3 L827.8,475.3 L828.3,475.2 L828.8,475.2 L829.3,475.3 L829.8,475.4 L830.3,475.4 L830.8,475.5 L831.3,475.5 L831.8,475.4 L832.3,475.4 L832.8,475.3 L833.3,475.4 L833.8,475.4 L834.3,475.5 L834.8,475.5 L835.3,475.5 L835.8,475.5 L836.3,475.5 L836.8,475.5 L837.3,475.5 L837.8,475.5 L838.3,475.5 L838.8,475.5 L839.3,475.5 L839.8,475.4 L840.3,475.4 L840.8,475.4 L841.3,475.3 L841.8,475.3 L842.3,475.3 L842.8,475.4 L843.3,475.4 L843.8,475.4 L844.3,475.4 L844.8,475.4 L845.3,475.4 L845.8,475.4 L846.3,475.5 L846.8,475.5 L847.3,475.5 L847.8,475.4 L848.3,475.4 L848.8,475.5 L849.3,475.5 L849.8,475.5 L850.3,475.5 L850.8,475.5 L851.3,475.5 L851.8,475.4 L852.3,475.4 L852.8,475.4 L853.3,475.4 L853.8,475.4 L854.3,475.4 L854.8,475.3 L855.3,475.3 L855.8,475.2 L856.3,475.2 L856.8,475.3 L857.3,475.3 L857.8,475.3 L858.3,475.3 L858.8,475.3 L859.3,475.2 L859.8,475.2 L860.3,475.2 L860.8,475.2 L861.3,475.2 L861.8,475.3 L862.3,475.3 L862.8,475.3 L863.3,475.4 L863.8,475.4 L864.3,475.5 L864.8,475.4 L865.3,475.4 L865.8,475.4 L866.3,475.3 L866.8,475.3 L867.3,475.4 L867.8,475.4 L868.3,475.4 L868.8,475.4 L869.3,475.4 L869.8,475.3 L870.3,475.3 L870.8,475.4 L871.3,475.4 L871.8,475.5 L872.3,475.5 L872.8,475.5 L873.3,475.4 L873.8,475.5 L874.3,475.4 L874.8,475.3 L875.3,475.3 L875.8,475.3 L876.3,475.2 L876.8,475.3 L877.3,475.2 L877.8,475.3 L878.3,475.3 L878.8,475.3 L879.3,475.3 L879.8,475.5 L880.3,475.5 L880.8,475.5 L881.3,475.4 L881.8,475.5 L882.3,475.4 L882.8,475.3 L883.3,475.4 L883.8,475.4 L884.3,475.4 L884.8,475.4 L885.3,475.5 L885.8,475.4 L886.3,475.5 L886.8,475.4 L887.3,475.4 L887.8,475.3 L888.3,475.4 L888.8,475.4 L889.3,475.3 L889.8,475.2 L890.3,475.2 L890.8,475.2 L891.3,475.2 L891.8,475.2 L892.3,475.3 L892.8,475.3 L893.3,475.3 L893.8,475.3 L894.3,475.4 L894.8,475.3 L895.3,475.4 L895.8,475.4 L896.3,475.3 L896.8,475.4 L897.3,475.4 L897.8,475.5 L898.3,475.5 L898.8,475.6 L899.3,475.5 L899.8,475.6 L900.3,475.5 L900.8,475.5 L901.3,475.5 L901.8,475.5 L902.3,475.4 L902.8,475.5 L903.3,475.5 L903.8,475.4 L904.3,475.5 L904.8,475.5 L905.3,475.5 L905.8,475.4 L906.3,475.5 L906.8,475.4 L907.3,475.4 L907.8,475.4 L908.3,475.4 L908.8,475.3 L909.3,475.4 L909.8,475.4 L910.3,475.4 L910.8,475.4 L911.3,475.4 L911.8,475.3 L912.3,475.3 L912.8,475.3 L913.3,475.3 L913.8,475.3 L914.3,475.3 L914.8,475.4 L915.3,475.4 L915.8,475.4 L916.3,475.4 L916.8,475.5 L917.3,475.5 L917.8,475.4 L918.3,475.4 L918.8,475.5 L919.3,475.4 L919.8,475.4 L920.3,475.4 L920.8,475.5 L921.3,475.4 L921.8,475.5 L922.3,475.5 L922.8,475.5 L923.3,475.5 L923.8,475.5 L924.3,475.4 L924.8,475.4 L925.3,475.4 L925.8,475.3 L926.3,475.3 L926.8,475.4 L927.3,475.3 L927.8,475.4 L928.3,475.4 L928.8,475.4 L929.3,475.4 L929.8,475.5 L930.3,475.5 L930.8,475.5 L931.3,475.4 L931.8,475.4 L932.3,475.4 L932.8,475.3 L933.3,475.4 L933.8,475.4 L934.3,475.5 L934.8,475.4 L935.3,475.5 L935.8,475.5 L936.3,475.5 L936.8,475.4 L937.3,475.4 L937.8,475.4 L938.3,475.3 L938.8,475.3 L939.3,475.4 L939.8,475.5 L940.3,475.4 L940.8,475.5 L941.3,475.5 L941.8,475.5 L942.3,475.4 L942.8,475.4 L943.3,475.4 L943.8,475.4 L944.3,475.5 L944.8,475.5 L945.3,475.5 L945.8,475.4 L946.3,475.4 L946.8,475.4 L947.3,475.5 L947.8,475.5 L948.3,475.5 L948.8,475.6 L949.3,475.5 L949.8,475.5 L950.3,475.4 L950.8,475.4 L951.3,475.4 L951.8,475.3 L952.3,475.3 L952.8,475.3 L953.3,475.2 L953.8,475.3 L954.3,475.3 L954.8,475.3 L955.3,475.4 L955.8,475.4 L956.3,475.4 L956.8,475.4 L957.3,475.4 L957.7,475.4"/>

<!-- orange arrow -->
<line x1="106.4" y1="378.0" x2="292" y2="377.5" stroke="#ff8000" stroke-width="3.2" stroke-linecap="round"/>
<path d="M289.3,372.7 L305.8,377.4 L289.3,382.0 Z" fill="#ff8000" stroke="#ff8000" stroke-width="1.3" stroke-linejoin="round"/>

<!-- inset for b: 1.5 to 3.0 degrees -->
<path class="curve" stroke="#008000" stroke-width="2.1" stroke-linejoin="miter" d="M311.6,421.4 L350.0,420.9 L375.0,420.0 L388.0,418.8 L395.0,417.4 L399.5,415.6 L402.2,400.0 L406.2,373.9 L409.5,335.0 L412.8,297.6 L416.2,320.0 L419.6,339.5 L422.5,370.0 L426.0,413.6 L430.0,416.8 L437.0,418.8 L448.0,420.0 L465.0,420.8 L490.0,421.3 L514.3,421.5"/>
<g stroke="#ff4040" stroke-width="0.9">
<line x1="406.2" y1="427.6" x2="406.2" y2="433.8"/>
<line x1="412.8" y1="427.6" x2="412.8" y2="433.8"/>
<line x1="419.8" y1="427.6" x2="419.8" y2="433.8"/>
</g>
<g class="ax" style="stroke:#555;stroke-width:0.75">
<line x1="311.20" y1="433.8" x2="514.70" y2="433.8"/>
<line x1="311.6" y1="433.8" x2="311.6" y2="437.8"/>
<line x1="379.2" y1="433.8" x2="379.2" y2="437.8"/>
<line x1="446.7" y1="433.8" x2="446.7" y2="437.8"/>
<line x1="514.3" y1="433.8" x2="514.3" y2="437.8"/>
<line x1="345.4" y1="433.8" x2="345.4" y2="435.7"/>
<line x1="412.9" y1="433.8" x2="412.9" y2="435.7"/>
<line x1="480.5" y1="433.8" x2="480.5" y2="435.7"/>
</g>
<g class="jl">
<text x="311.6" y="457.3">1.5</text>
<text x="379.2" y="457.3">2.0</text>
<text x="446.7" y="457.3">2.5</text>
<text x="514.3" y="457.3">3.0</text>
</g>
<text class="hk" x="352.6" y="349">(100)</text>
<text class="hk" x="423.6" y="350.6">(001)</text>
<text class="hk" x="419.2" y="315.4">(101)</text>
<line x1="451.9" y1="296.1" x2="464.2" y2="296.1" stroke="#000" stroke-width="1.9"/>

<!-- pattern c (blue) -->
<path class="curve" stroke="#0000ff" stroke-width="4.6" d="M51.3,662.8 L51.8,662.7 L52.3,662.7 L52.8,662.7 L53.3,662.7 L53.8,662.6 L54.3,662.6 L54.8,662.6 L55.3,662.6 L55.8,662.6 L56.3,662.6 L56.8,662.6 L57.3,662.6 L57.8,662.6 L58.3,662.6 L58.8,662.6 L59.3,662.6 L59.8,662.5 L60.3,662.5 L60.8,662.4 L61.3,662.3 L61.8,662.1 L62.3,662.1 L62.8,662.0 L63.3,661.9 L63.8,661.8 L64.3,661.7 L64.8,661.6 L65.3,661.5 L65.8,661.5 L66.2,661.4 L66.3,661.3 L66.8,661.1 L67.3,660.9 L67.8,660.7 L68.3,660.4 L68.8,660.2 L69.3,660.0 L69.3,660.0 L69.8,659.5 L70.3,658.9 L70.8,658.4 L70.9,658.3 L71.3,657.5 L71.8,656.5 L72.0,656.0 L72.3,644.3 L72.8,624.8 L73.3,605.2 L73.5,595.4 L73.8,583.1 L74.3,558.4 L74.8,533.7 L75.1,518.9 L75.3,528.8 L75.8,553.5 L76.3,578.2 L76.7,595.4 L76.8,601.3 L77.3,620.8 L77.8,640.4 L78.2,656.0 L78.3,656.2 L78.8,657.3 L79.3,658.3 L79.8,658.8 L80.3,659.3 L80.8,659.9 L80.9,660.0 L81.3,660.2 L81.8,660.4 L82.3,660.6 L82.8,660.8 L83.3,661.1 L83.8,661.3 L84.0,661.4 L84.3,661.4 L84.8,661.5 L85.3,661.6 L85.8,661.7 L86.3,661.8 L86.8,661.9 L87.3,662.0 L87.8,662.2 L88.3,662.2 L88.8,662.3 L89.3,662.4 L89.8,662.4 L89.9,662.4 L90.3,662.5 L90.8,662.5 L91.3,662.6 L91.8,662.6 L92.3,662.6 L92.8,662.6 L93.3,662.6 L93.8,662.6 L94.3,662.6 L94.8,662.7 L95.3,662.7 L95.8,662.7 L96.3,662.6 L96.8,662.6 L97.3,662.7 L97.8,662.6 L98.3,662.6 L98.8,662.7 L99.3,662.7 L99.8,662.7 L100.3,662.8 L100.8,662.8 L101.3,662.9 L101.8,662.9 L102.3,662.9 L102.8,662.9 L103.3,662.9 L103.8,662.8 L104.3,662.9 L104.8,662.9 L105.1,662.9 L105.3,663.0 L105.8,663.1 L106.3,663.0 L106.8,663.0 L107.3,663.0 L107.8,663.0 L108.3,663.0 L108.8,663.0 L109.3,663.0 L109.8,662.9 L110.3,662.9 L110.8,662.9 L111.3,662.9 L111.8,662.9 L112.3,662.9 L112.8,663.0 L113.3,663.0 L113.8,663.0 L114.3,663.0 L114.8,663.0 L115.3,663.0 L115.8,663.0 L116.3,663.0 L116.8,663.0 L117.3,663.0 L117.8,663.0 L118.3,663.0 L118.8,663.1 L119.3,663.1 L119.8,663.1 L120.3,663.1 L120.8,663.1 L121.3,663.1 L121.8,663.1 L122.3,663.1 L122.8,663.1 L123.3,663.1 L123.8,662.9 L124.3,662.8 L124.8,662.5 L125.3,662.3 L125.8,662.0 L126.3,661.9 L126.8,662.0 L127.3,662.3 L127.8,662.5 L128.3,662.7 L128.8,662.9 L129.3,663.0 L129.8,663.0 L130.3,663.1 L130.8,663.2 L131.3,663.2 L131.8,663.2 L132.3,663.3 L132.8,663.2 L133.3,663.2 L133.8,663.1 L134.3,663.1 L134.8,663.1 L135.1,663.1 L135.3,663.1 L135.8,663.1 L136.3,663.2 L136.8,663.2 L137.3,663.2 L137.8,663.2 L138.3,663.2 L138.8,663.2 L139.3,663.1 L139.8,663.1 L140.3,663.1 L140.8,663.1 L141.3,663.1 L141.8,663.1 L142.3,663.0 L142.8,663.0 L143.3,662.8 L143.8,662.4 L144.3,661.7 L144.8,660.7 L145.3,659.6 L145.8,658.4 L146.3,657.7 L146.8,657.8 L147.3,658.6 L147.8,659.7 L148.3,660.8 L148.8,661.7 L149.3,662.3 L149.8,662.6 L150.3,662.9 L150.8,663.0 L151.3,663.1 L151.8,663.1 L152.3,663.2 L152.8,663.1 L153.3,663.1 L153.8,663.1 L154.3,663.0 L154.8,663.1 L155.3,663.1 L155.8,663.2 L156.3,663.2 L156.8,663.2 L157.3,663.3 L157.8,663.3 L158.3,663.2 L158.8,663.3 L159.3,663.3 L159.8,663.3 L160.3,663.2 L160.8,663.3 L161.3,663.2 L161.8,663.2 L162.3,663.2 L162.8,663.2 L163.3,663.2 L163.8,663.2 L164.3,663.2 L164.8,663.1 L165.3,663.2 L165.8,663.2 L166.3,663.2 L166.8,663.2 L167.3,663.3 L167.8,663.3 L168.3,663.2 L168.8,663.3 L169.3,663.3 L169.8,663.3 L170.3,663.2 L170.8,663.2 L171.3,663.2 L171.8,663.1 L172.3,663.1 L172.8,663.1 L173.3,663.1 L173.8,663.1 L174.3,663.1 L174.8,663.2 L175.3,663.2 L175.8,663.1 L176.3,663.1 L176.8,663.2 L177.3,663.1 L177.8,663.2 L178.3,663.2 L178.8,663.2 L179.3,663.1 L179.8,663.1 L180.3,663.1 L180.8,663.1 L181.3,663.0 L181.8,663.1 L182.3,663.1 L182.8,663.1 L183.3,663.0 L183.8,663.0 L184.3,662.9 L184.8,662.8 L185.3,662.7 L185.8,662.5 L186.3,662.2 L186.8,661.5 L187.3,660.5 L187.8,658.8 L188.3,656.7 L188.8,654.1 L189.3,651.4 L189.8,649.0 L190.3,647.5 L190.8,647.3 L191.3,648.5 L191.8,650.8 L192.3,653.4 L192.8,656.0 L193.3,658.0 L193.8,659.2 L194.3,659.7 L194.8,659.6 L195.3,659.0 L195.8,658.3 L196.3,657.7 L196.8,657.7 L197.3,658.2 L197.8,659.2 L198.3,660.3 L198.8,661.3 L199.3,662.0 L199.8,662.6 L200.3,662.8 L200.8,663.0 L201.3,663.0 L201.8,663.1 L202.3,663.1 L202.8,663.1 L203.3,663.0 L203.8,663.0 L204.3,662.9 L204.8,662.9 L205.3,662.9 L205.8,662.9 L206.3,663.0 L206.8,663.0 L207.3,663.0 L207.8,663.0 L208.3,663.0 L208.8,663.0 L209.3,662.9 L209.8,662.8 L210.3,662.8 L210.8,662.7 L211.3,662.5 L211.8,662.1 L212.3,660.9 L212.8,657.9 L213.3,652.5 L213.8,647.1 L214.3,646.3 L214.8,650.7 L215.3,655.3 L215.8,656.6 L216.3,653.4 L216.8,645.8 L217.3,635.4 L217.8,625.3 L218.3,620.9 L218.8,625.2 L219.3,635.0 L219.8,645.0 L220.3,651.9 L220.8,654.9 L221.3,654.9 L221.8,654.0 L222.3,653.5 L222.8,654.5 L223.3,656.5 L223.8,658.7 L224.3,660.5 L224.8,661.7 L225.3,662.3 L225.8,662.6 L226.3,662.8 L226.8,663.0 L227.3,663.0 L227.8,663.1 L228.3,663.1 L228.8,663.0 L229.3,662.9 L229.8,663.0 L230.3,663.0 L230.8,663.0 L231.3,663.1 L231.8,663.1 L232.3,663.1 L232.8,663.1 L233.3,663.1 L233.8,663.1 L234.3,663.1 L234.8,663.1 L235.3,663.2 L235.8,663.1 L236.3,663.1 L236.8,663.1 L237.3,663.0 L237.8,663.0 L238.3,663.0 L238.8,663.1 L239.3,663.1 L239.8,663.0 L240.3,663.1 L240.8,663.1 L241.3,663.1 L241.8,663.1 L242.3,663.2 L242.8,663.1 L243.3,663.1 L243.8,663.1 L244.3,663.0 L244.8,662.9 L245.3,662.9 L245.8,662.9 L246.3,662.7 L246.8,662.5 L247.3,661.9 L247.8,661.0 L248.3,660.0 L248.8,659.2 L249.3,658.9 L249.8,658.3 L250.3,656.5 L250.8,653.1 L251.3,649.2 L251.8,646.9 L252.3,648.0 L252.8,651.7 L253.3,655.9 L253.8,658.7 L254.3,659.6 L254.8,658.8 L255.3,657.0 L255.8,655.9 L256.3,656.4 L256.8,658.0 L257.3,659.3 L257.8,659.3 L258.3,657.8 L258.8,655.5 L259.3,653.8 L259.8,653.5 L260.3,655.0 L260.8,657.3 L261.3,659.0 L261.8,659.5 L262.3,658.0 L262.8,654.3 L263.3,648.4 L263.8,641.6 L264.3,636.4 L264.8,635.9 L265.3,640.4 L265.8,647.3 L266.3,653.6 L266.8,658.1 L267.3,660.7 L267.8,661.8 L268.3,662.4 L268.8,662.6 L269.3,662.8 L269.8,662.9 L270.3,663.0 L270.8,663.0 L271.3,663.0 L271.8,663.0 L272.3,663.0 L272.8,663.1 L273.3,663.0 L273.8,663.1 L274.3,663.1 L274.8,663.1 L275.3,663.0 L275.8,663.1 L276.3,663.0 L276.8,663.1 L277.3,663.1 L277.8,663.1 L278.3,663.1 L278.8,663.2 L279.3,663.2 L279.8,663.2 L280.3,663.2 L280.8,663.1 L281.3,663.1 L281.8,663.1 L282.3,663.2 L282.8,663.2 L283.3,663.2 L283.8,663.2 L284.3,663.2 L284.8,663.2 L285.3,663.2 L285.8,663.2 L286.3,663.2 L286.8,663.1 L287.3,663.2 L287.8,663.2 L288.3,663.2 L288.8,663.2 L289.3,663.2 L289.8,663.0 L290.3,662.7 L290.8,662.9 L291.3,662.9 L291.8,663.0 L292.3,663.2 L292.8,663.3 L293.3,663.3 L293.8,663.3 L294.3,663.7 L294.8,663.5 L295.3,663.4 L295.8,663.4 L296.3,663.5 L296.8,663.1 L297.3,663.2 L297.8,663.2 L298.3,663.2 L298.8,663.3 L299.3,663.4 L299.8,663.1 L300.3,663.3 L300.8,663.4 L301.3,663.5 L301.8,663.3 L302.3,663.5 L302.8,663.4 L303.3,663.3 L303.8,663.2 L304.3,663.6 L304.8,663.5 L305.3,663.5 L305.8,663.6 L306.3,663.6 L306.8,663.4 L307.3,663.4 L307.8,663.2 L308.3,662.6 L308.8,662.0 L309.3,661.4 L309.8,660.7 L310.3,660.5 L310.8,660.7 L311.3,661.0 L311.8,661.5 L312.3,662.1 L312.8,662.6 L313.3,663.0 L313.8,663.3 L314.3,663.3 L314.8,663.4 L315.3,663.3 L315.8,663.3 L316.3,663.3 L316.8,663.3 L317.3,663.1 L317.8,663.0 L318.3,662.7 L318.8,662.7 L319.3,662.5 L319.8,662.3 L320.3,662.2 L320.8,662.1 L321.3,662.1 L321.8,662.4 L322.3,663.0 L322.8,663.2 L323.3,663.3 L323.8,663.5 L324.3,663.5 L324.8,663.6 L325.3,663.4 L325.8,663.3 L326.3,662.9 L326.8,662.6 L327.3,662.0 L327.8,662.0 L328.3,662.0 L328.8,662.2 L329.3,662.4 L329.8,662.6 L330.3,662.7 L330.8,662.8 L331.3,662.7 L331.8,662.4 L332.3,662.0 L332.8,661.6 L333.3,660.6 L333.8,660.1 L334.3,659.8 L334.8,660.0 L335.3,660.5 L335.8,661.4 L336.3,662.0 L336.8,662.4 L337.3,662.7 L337.8,662.9 L338.3,662.9 L338.8,663.0 L339.3,663.1 L339.8,663.2 L340.3,663.0 L340.8,663.2 L341.3,663.2 L341.8,663.1 L342.3,663.1 L342.8,663.0 L343.3,663.0 L343.8,663.0 L344.3,663.1 L344.8,663.2 L345.3,663.5 L345.8,663.4 L346.3,663.5 L346.8,663.5 L347.3,663.4 L347.8,663.1 L348.3,663.2 L348.8,663.1 L349.3,663.0 L349.8,663.1 L350.3,663.0 L350.8,662.8 L351.3,662.8 L351.8,662.8 L352.3,663.0 L352.8,663.2 L353.3,663.4 L353.8,663.4 L354.3,663.4 L354.8,663.1 L355.3,663.0 L355.8,662.8 L356.3,662.7 L356.8,662.7 L357.3,662.8 L357.8,662.9 L358.3,663.1 L358.8,663.0 L359.3,663.1 L359.8,663.2 L360.3,663.1 L360.8,662.8 L361.3,663.1 L361.8,663.0 L362.3,662.6 L362.8,662.8 L363.3,663.1 L363.8,663.1 L364.3,662.9 L364.8,663.1 L365.3,663.0 L365.8,662.7 L366.3,662.6 L366.8,662.8 L367.3,662.9 L367.8,662.9 L368.3,663.1 L368.8,663.2 L369.3,662.9 L369.8,662.6 L370.3,662.6 L370.8,662.4 L371.3,662.2 L371.8,662.0 L372.3,661.6 L372.8,660.2 L373.3,657.0 L373.8,651.2 L374.3,642.4 L374.8,631.4 L375.3,622.5 L375.8,620.1 L376.3,625.8 L376.8,636.1 L377.3,646.6 L377.8,654.2 L378.3,658.7 L378.8,661.0 L379.3,662.0 L379.8,662.2 L380.3,662.1 L380.8,661.7 L381.3,661.3 L381.8,660.9 L382.3,660.7 L382.8,661.2 L383.3,661.9 L383.8,662.4 L384.3,662.7 L384.8,663.1 L385.3,663.1 L385.8,663.1 L386.3,663.2 L386.8,663.4 L387.3,663.5 L387.8,663.4 L388.3,663.6 L388.8,663.4 L389.3,663.2 L389.8,662.9 L390.3,662.9 L390.8,662.6 L391.3,662.4 L391.8,662.2 L392.3,662.0 L392.8,661.4 L393.3,660.8 L393.8,660.1 L394.3,659.5 L394.8,659.2 L395.3,659.3 L395.8,659.4 L396.3,660.2 L396.8,660.9 L397.3,661.5 L397.8,662.1 L398.3,662.6 L398.8,662.7 L399.3,662.9 L399.8,663.0 L400.3,663.0 L400.8,662.9 L401.3,663.0 L401.8,663.0 L402.3,662.9 L402.8,663.0 L403.3,663.1 L403.8,662.9 L404.3,662.7 L404.8,662.9 L405.3,663.0 L405.8,662.9 L406.3,663.0 L406.8,663.0 L407.3,662.9 L407.8,662.9 L408.3,663.0 L408.8,662.8 L409.3,662.8 L409.8,662.8 L410.3,662.6 L410.8,662.4 L411.3,662.0 L411.8,661.1 L412.3,659.4 L412.8,657.2 L413.3,654.5 L413.8,651.6 L414.3,649.0 L414.8,647.8 L415.3,648.0 L415.8,649.7 L416.3,652.6 L416.8,655.5 L417.3,658.0 L417.8,660.1 L418.3,661.4 L418.8,662.1 L419.3,662.4 L419.8,662.6 L420.3,662.6 L420.8,662.8 L421.3,662.8 L421.8,662.9 L422.3,662.9 L422.8,662.8 L423.3,662.7 L423.8,662.4 L424.3,662.1 L424.8,661.8 L425.3,661.8 L425.8,661.7 L426.3,662.1 L426.8,662.5 L427.3,662.8 L427.8,662.9 L428.3,663.0 L428.8,663.0 L429.3,662.9 L429.8,662.8 L430.3,663.0 L430.8,663.2 L431.3,663.1 L431.8,663.0 L432.3,662.9 L432.8,662.8 L433.3,662.6 L433.8,662.6 L434.3,662.7 L434.8,662.8 L435.3,662.7 L435.8,662.7 L436.3,662.8 L436.8,662.5 L437.3,662.3 L437.8,662.2 L438.3,661.6 L438.8,661.0 L439.3,660.7 L439.8,660.5 L440.3,660.5 L440.8,661.2 L441.3,661.7 L441.8,662.3 L442.3,662.6 L442.8,662.8 L443.3,662.9 L443.8,662.8 L444.3,662.3 L444.8,662.2 L445.3,661.8 L445.8,660.8 L446.3,659.2 L446.8,657.1 L447.3,653.5 L447.8,650.0 L448.3,647.3 L448.8,646.6 L449.3,647.9 L449.8,650.6 L450.3,653.1 L450.8,654.2 L451.3,654.0 L451.8,652.7 L452.3,651.4 L452.8,651.2 L453.3,652.8 L453.8,655.2 L454.3,657.9 L454.8,660.1 L455.3,661.5 L455.8,662.2 L456.3,662.5 L456.8,662.7 L457.3,662.8 L457.8,662.8 L458.3,663.0 L458.8,663.1 L459.3,663.0 L459.8,662.9 L460.3,663.0 L460.8,663.2 L461.3,663.3 L461.8,663.5 L462.3,663.5 L462.8,663.5 L463.3,663.4 L463.8,663.4 L464.3,663.3 L464.8,663.1 L465.3,663.1 L465.8,663.2 L466.3,663.1 L466.8,663.0 L467.3,663.2 L467.8,663.2 L468.3,662.8 L468.8,662.6 L469.3,662.4 L469.8,662.4 L470.3,662.4 L470.8,662.7 L471.3,663.1 L471.8,663.4 L472.3,663.5 L472.8,663.6 L473.3,663.3 L473.8,663.1 L474.3,663.2 L474.8,663.3 L475.3,663.3 L475.8,663.7 L476.3,663.9 L476.8,663.8 L477.3,663.6 L477.8,663.5 L478.3,663.1 L478.8,662.9 L479.3,662.9 L479.8,662.8 L480.3,662.9 L480.8,663.2 L481.3,663.2 L481.8,663.0 L482.3,662.9 L482.8,662.7 L483.3,662.3 L483.8,661.8 L484.3,661.3 L484.8,660.8 L485.3,660.4 L485.8,660.3 L486.3,660.6 L486.8,661.1 L487.3,661.6 L487.8,662.1 L488.3,662.7 L488.8,662.8 L489.3,663.1 L489.8,663.2 L490.3,663.1 L490.8,662.8 L491.3,662.5 L491.8,661.9 L492.3,661.6 L492.8,661.6 L493.3,661.7 L493.8,662.0 L494.3,662.2 L494.8,662.4 L495.3,662.7 L495.8,662.7 L496.3,662.9 L496.8,663.1 L497.3,663.3 L497.8,663.2 L498.3,663.1 L498.8,663.2 L499.3,663.2 L499.8,663.3 L500.3,663.3 L500.8,663.3 L501.3,663.5 L501.8,663.5 L502.3,663.4 L502.8,663.4 L503.3,663.3 L503.8,663.3 L504.3,663.0 L504.8,662.8 L505.3,663.1 L505.8,663.3 L506.3,663.1 L506.8,663.2 L507.3,663.2 L507.8,662.9 L508.3,662.3 L508.8,662.0 L509.3,661.8 L509.8,661.8 L510.3,661.9 L510.8,662.2 L511.3,662.6 L511.8,662.5 L512.3,662.3 L512.8,662.2 L513.3,662.3 L513.8,662.3 L514.3,662.6 L514.8,662.6 L515.3,662.7 L515.8,662.9 L516.3,663.0 L516.8,663.2 L517.3,663.3 L517.8,663.3 L518.3,663.2 L518.8,663.2 L519.3,663.0 L519.8,663.1 L520.3,662.9 L520.8,662.8 L521.3,663.0 L521.8,663.1 L522.3,663.0 L522.8,663.2 L523.3,663.3 L523.8,663.0 L524.3,662.9 L524.8,662.7 L525.3,662.3 L525.8,662.1 L526.3,662.1 L526.8,662.4 L527.3,662.5 L527.8,662.9 L528.3,663.1 L528.8,663.1 L529.3,663.0 L529.8,663.1 L530.3,662.9 L530.8,662.9 L531.3,662.9 L531.8,663.1 L532.3,663.1 L532.8,663.2 L533.3,663.3 L533.8,663.6 L534.3,663.4 L534.8,663.4 L535.3,663.4 L535.8,663.4 L536.3,663.2 L536.8,663.2 L537.3,663.3 L537.8,663.2 L538.3,663.1 L538.8,663.1 L539.3,663.1 L539.8,663.2 L540.3,663.3 L540.8,663.4 L541.3,663.4 L541.8,663.4 L542.3,663.4 L542.8,663.4 L543.3,663.2 L543.8,663.2 L544.3,663.1 L544.8,663.0 L545.3,663.0 L545.8,663.1 L546.3,663.3 L546.8,663.6 L547.3,663.5 L547.8,663.5 L548.3,663.4 L548.8,663.2 L549.3,663.1 L549.8,663.1 L550.3,663.0 L550.8,663.0 L551.3,663.1 L551.8,663.0 L552.3,663.0 L552.8,663.0 L553.3,663.1 L553.8,662.9 L554.3,662.9 L554.8,663.0 L555.3,663.0 L555.8,663.1 L556.3,663.1 L556.8,663.0 L557.3,662.9 L557.8,663.1 L558.3,663.1 L558.8,663.1 L559.3,663.2 L559.8,663.1 L560.3,663.1 L560.8,663.0 L561.3,663.1 L561.8,663.1 L562.3,663.1 L562.8,663.2 L563.3,663.2 L563.8,663.2 L564.3,663.1 L564.8,663.4 L565.3,663.4 L565.8,663.3 L566.3,663.0 L566.8,663.1 L567.3,662.7 L567.8,662.6 L568.3,662.4 L568.8,662.2 L569.3,662.0 L569.8,662.1 L570.3,662.0 L570.8,662.3 L571.3,662.6 L571.8,662.8 L572.3,662.8 L572.8,662.8 L573.3,663.0 L573.8,663.1 L574.3,663.2 L574.8,663.1 L575.3,663.1 L575.8,662.8 L576.3,662.6 L576.8,662.0 L577.3,661.8 L577.8,661.6 L578.3,661.5 L578.8,661.5 L579.3,661.7 L579.8,662.0 L580.3,662.4 L580.8,662.6 L581.3,662.8 L581.8,663.2 L582.3,663.2 L582.8,663.1 L583.3,663.1 L583.8,663.2 L584.3,663.2 L584.8,663.3 L585.3,663.4 L585.8,663.3 L586.3,663.1 L586.8,663.1 L587.3,663.1 L587.8,663.2 L588.3,663.3 L588.8,663.4 L589.3,663.4 L589.8,663.4 L590.3,663.1 L590.8,663.1 L591.3,663.1 L591.8,663.0 L592.3,663.2 L592.8,663.4 L593.3,663.5 L593.8,663.5 L594.3,663.7 L594.8,663.6 L595.3,663.5 L595.8,663.5 L596.3,663.3 L596.8,663.3 L597.3,663.2 L597.8,663.3 L598.3,663.4 L598.8,663.4 L599.3,663.4 L599.8,663.3 L600.3,663.1 L600.8,663.0 L601.3,662.8 L601.8,663.0 L602.3,662.9 L602.8,662.9 L603.3,662.8 L603.8,662.9 L604.3,662.8 L604.8,662.9 L605.3,663.0 L605.8,663.3 L606.3,663.4 L606.8,663.4 L607.3,663.3 L607.8,663.4 L608.3,663.2 L608.8,663.0 L609.3,663.1 L609.8,663.1 L610.3,663.1 L610.8,663.1 L611.3,663.2 L611.8,663.0 L612.3,663.0 L612.8,663.0 L613.3,662.6 L613.8,662.4 L614.3,662.2 L614.8,662.0 L615.3,661.9 L615.8,662.3 L616.3,662.5 L616.8,662.9 L617.3,663.1 L617.8,663.3 L618.3,663.3 L618.8,663.1 L619.3,662.9 L619.8,662.8 L620.3,662.7 L620.8,662.4 L621.3,662.2 L621.8,662.1 L622.3,662.0 L622.8,662.0 L623.3,662.4 L623.8,662.8 L624.3,663.1 L624.8,663.3 L625.3,663.5 L625.8,663.4 L626.3,663.3 L626.8,663.2 L627.3,663.1 L627.8,662.9 L628.3,663.0 L628.8,663.1 L629.3,663.1 L629.8,663.0 L630.3,663.0 L630.8,663.0 L631.3,662.9 L631.8,662.7 L632.3,662.7 L632.8,662.6 L633.3,662.7 L633.8,662.8 L634.3,662.9 L634.8,662.9 L635.3,662.9 L635.8,662.9 L636.3,662.9 L636.8,662.9 L637.3,662.9 L637.8,663.1 L638.3,663.1 L638.8,663.1 L639.3,662.9 L639.8,662.9 L640.3,662.8 L640.8,662.8 L641.3,663.0 L641.8,663.3 L642.3,663.4 L642.8,663.4 L643.3,663.7 L643.8,663.6 L644.3,663.3 L644.8,663.3 L645.3,663.4 L645.8,663.1 L646.3,663.0 L646.8,663.1 L647.3,663.1 L647.8,663.0 L648.3,663.1 L648.8,663.2 L649.3,663.3 L649.8,663.5 L650.3,663.5 L650.8,663.3 L651.3,663.2 L651.8,663.0 L652.3,662.9 L652.8,663.0 L653.3,663.1 L653.8,663.1 L654.3,663.2 L654.8,663.3 L655.3,663.4 L655.8,663.5 L656.3,663.6 L656.8,663.6 L657.3,663.5 L657.8,663.4 L658.3,663.4 L658.8,663.3 L659.3,663.2 L659.8,663.2 L660.3,663.2 L660.8,663.2 L661.3,663.2 L661.8,663.3 L662.3,663.4 L662.8,663.3 L663.3,663.4 L663.8,663.2 L664.3,663.2 L664.8,662.9 L665.3,663.0 L665.8,663.1 L666.3,663.2 L666.8,663.2 L667.3,663.2 L667.8,663.2 L668.3,663.2 L668.8,663.3 L669.3,663.3 L669.8,663.4 L670.3,663.5 L670.8,663.5 L671.3,663.4 L671.8,663.5 L672.3,663.4 L672.8,663.3 L673.3,663.2 L673.8,663.1 L674.3,663.1 L674.8,663.2 L675.3,663.4 L675.8,663.3 L676.3,663.3 L676.8,663.1 L677.3,663.2 L677.8,663.0 L678.3,663.2 L678.8,663.2 L679.3,663.4 L679.8,663.2 L680.3,663.3 L680.8,663.1 L681.3,663.2 L681.8,663.1 L682.3,663.2 L682.8,663.2 L683.3,663.3 L683.8,663.2 L684.3,663.4 L684.8,663.5 L685.3,663.4 L685.8,663.5 L686.3,663.7 L686.8,663.7 L687.3,663.6 L687.8,663.6 L688.3,663.6 L688.8,663.3 L689.3,663.1 L689.8,662.8 L690.3,662.9 L690.8,663.0 L691.3,663.0 L691.8,663.2 L692.3,663.5 L692.8,663.4 L693.3,663.3 L693.8,663.2 L694.3,663.3 L694.8,663.3 L695.3,663.3 L695.8,663.4 L696.3,663.5 L696.8,663.4 L697.3,663.1 L697.8,663.1 L698.3,663.0 L698.8,663.0 L699.3,663.0 L699.8,663.2 L700.3,663.2 L700.8,663.3 L701.3,663.4 L701.8,663.4 L702.3,663.2 L702.8,663.1 L703.3,663.1 L703.8,662.9 L704.3,663.0 L704.8,663.0 L705.3,663.1 L705.8,663.0 L706.3,663.1 L706.8,663.0 L707.3,663.0 L707.8,662.9 L708.3,663.1 L708.8,663.0 L709.3,663.0 L709.8,662.9 L710.3,663.1 L710.8,663.1 L711.3,663.1 L711.8,663.4 L712.3,663.4 L712.8,663.2 L713.3,663.3 L713.8,663.4 L714.3,663.1 L714.8,663.3 L715.3,663.5 L715.8,663.3 L716.3,663.3 L716.8,663.2 L717.3,663.1 L717.8,663.1 L718.3,663.0 L718.8,663.0 L719.3,663.1 L719.8,663.0 L720.3,663.1 L720.8,663.2 L721.3,663.2 L721.8,663.3 L722.3,663.4 L722.8,663.2 L723.3,663.0 L723.8,662.9 L724.3,662.9 L724.8,662.7 L725.3,662.6 L725.8,663.0 L726.3,663.1 L726.8,663.0 L727.3,663.2 L727.8,663.3 L728.3,663.1 L728.8,663.1 L729.3,663.3 L729.8,663.4 L730.3,663.5 L730.8,663.4 L731.3,663.3 L731.8,663.1 L732.3,663.0 L732.8,662.8 L733.3,662.7 L733.8,662.3 L734.3,661.6 L734.8,660.1 L735.3,657.2 L735.8,652.7 L736.3,648.1 L736.8,645.3 L737.3,646.5 L737.8,650.8 L738.3,655.7 L738.8,659.3 L739.3,661.4 L739.8,662.3 L740.3,662.6 L740.8,662.9 L741.3,663.2 L741.8,663.4 L742.3,663.4 L742.8,663.6 L743.3,663.5 L743.8,663.3 L744.3,663.0 L744.8,663.0 L745.3,662.9 L745.8,662.7 L746.3,662.6 L746.8,662.6 L747.3,662.2 L747.8,662.0 L748.3,661.9 L748.8,661.9 L749.3,662.0 L749.8,662.5 L750.3,662.8 L750.8,663.1 L751.3,663.3 L751.8,663.4 L752.3,663.4 L752.8,663.2 L753.3,663.1 L753.8,663.1 L754.3,663.1 L754.8,662.9 L755.3,662.9 L755.8,662.8 L756.3,662.6 L756.8,662.5 L757.3,662.5 L757.8,662.3 L758.3,662.3 L758.8,662.5 L759.3,662.5 L759.8,662.7 L760.3,662.9 L760.8,663.0 L761.3,663.1 L761.8,663.1 L762.3,663.1 L762.8,663.3 L763.3,663.3 L763.8,663.3 L764.3,663.1 L764.8,662.9 L765.3,662.6 L765.8,662.4 L766.3,662.1 L766.8,662.0 L767.3,661.7 L767.8,661.7 L768.3,661.8 L768.8,661.9 L769.3,662.4 L769.8,662.8 L770.3,662.9 L770.8,663.0 L771.3,663.2 L771.8,663.3 L772.3,663.3 L772.8,663.3 L773.3,663.3 L773.8,663.3 L774.3,663.2 L774.8,663.1 L775.3,663.3 L775.8,663.4 L776.3,663.5 L776.8,663.3 L777.3,663.4 L777.8,663.2 L778.3,663.3 L778.8,662.9 L779.3,662.8 L779.8,662.7 L780.3,662.5 L780.8,661.8 L781.3,661.7 L781.8,661.4 L782.3,661.2 L782.8,661.4 L783.3,661.7 L783.8,661.9 L784.3,662.4 L784.8,662.7 L785.3,662.7 L785.8,662.9 L786.3,663.1 L786.8,663.4 L787.3,663.3 L787.8,663.3 L788.3,663.3 L788.8,663.3 L789.3,663.2 L789.8,663.3 L790.3,663.4 L790.8,663.4 L791.3,663.5 L791.8,663.4 L792.3,663.3 L792.8,663.1 L793.3,663.1 L793.8,663.0 L794.3,662.9 L794.8,663.0 L795.3,662.9 L795.8,663.0 L796.3,663.0 L796.8,663.2 L797.3,663.1 L797.8,663.4 L798.3,663.3 L798.8,663.4 L799.3,663.3 L799.8,663.4 L800.3,663.0 L800.8,662.9 L801.3,663.0 L801.8,663.2 L802.3,663.3 L802.8,663.5 L803.3,663.7 L803.8,663.6 L804.3,663.3 L804.8,663.3 L805.3,663.2 L805.8,663.2 L806.3,663.3 L806.8,663.4 L807.3,663.1 L807.8,663.1 L808.3,663.2 L808.8,663.3 L809.3,663.2 L809.8,663.5 L810.3,663.5 L810.8,663.2 L811.3,662.9 L811.8,663.1 L812.3,663.1 L812.8,663.0 L813.3,663.1 L813.8,663.4 L814.3,663.1 L814.8,662.9 L815.3,663.0 L815.8,663.3 L816.3,663.3 L816.8,663.4 L817.3,663.5 L817.8,663.4 L818.3,663.3 L818.8,663.1 L819.3,663.1 L819.8,663.4 L820.3,663.5 L820.8,663.5 L821.3,663.4 L821.8,663.4 L822.3,663.3 L822.8,663.2 L823.3,663.1 L823.8,663.4 L824.3,663.4 L824.8,663.5 L825.3,663.4 L825.8,663.6 L826.3,663.3 L826.8,663.3 L827.3,663.4 L827.8,663.3 L828.3,663.2 L828.8,663.3 L829.3,663.4 L829.8,663.2 L830.3,663.4 L830.8,663.4 L831.3,663.4 L831.8,663.3 L832.3,663.4 L832.8,663.1 L833.3,663.2 L833.8,663.2 L834.3,663.2 L834.8,663.1 L835.3,663.4 L835.8,663.1 L836.3,663.3 L836.8,663.3 L837.3,663.3 L837.8,663.2 L838.3,663.3 L838.8,663.3 L839.3,663.3 L839.8,663.5 L840.3,663.6 L840.8,663.7 L841.3,663.6 L841.8,663.5 L842.3,663.4 L842.8,663.2 L843.3,663.0 L843.8,663.0 L844.3,663.0 L844.8,663.1 L845.3,663.2 L845.8,663.2 L846.3,663.2 L846.8,663.3 L847.3,663.1 L847.8,662.9 L848.3,662.7 L848.8,662.6 L849.3,662.3 L849.8,662.4 L850.3,662.7 L850.8,662.6 L851.3,662.8 L851.8,663.0 L852.3,662.8 L852.8,662.8 L853.3,662.9 L853.8,662.7 L854.3,662.7 L854.8,662.9 L855.3,662.9 L855.8,663.1 L856.3,663.1 L856.8,663.2 L857.3,663.2 L857.8,663.2 L858.3,663.1 L858.8,663.3 L859.3,663.3 L859.8,663.2 L860.3,663.1 L860.8,663.1 L861.3,663.0 L861.8,663.1 L862.3,663.1 L862.8,663.2 L863.3,663.2 L863.8,663.2 L864.3,663.1 L864.8,663.4 L865.3,663.1 L865.8,663.1 L866.3,663.0 L866.8,663.0 L867.3,662.7 L867.8,662.6 L868.3,662.8 L868.8,662.9 L869.3,662.8 L869.8,662.9 L870.3,663.1 L870.8,663.1 L871.3,663.2 L871.8,663.3 L872.3,663.2 L872.8,663.1 L873.3,663.1 L873.8,663.4 L874.3,663.2 L874.8,663.4 L875.3,663.5 L875.8,663.3 L876.3,663.1 L876.8,663.1 L877.3,663.3 L877.8,663.2 L878.3,663.4 L878.8,663.4 L879.3,663.2 L879.8,663.1 L880.3,663.0 L880.8,662.9 L881.3,662.9 L881.8,663.0 L882.3,662.9 L882.8,663.0 L883.3,663.1 L883.8,663.2 L884.3,663.3 L884.8,663.3 L885.3,663.2 L885.8,663.2 L886.3,663.3 L886.8,663.1 L887.3,663.0 L887.8,663.1 L888.3,663.2 L888.8,663.0 L889.3,663.1 L889.8,663.2 L890.3,663.2 L890.8,663.3 L891.3,663.3 L891.8,663.1 L892.3,663.3 L892.8,663.3 L893.3,663.3 L893.8,663.2 L894.3,663.3 L894.8,663.3 L895.3,663.1 L895.8,663.0 L896.3,662.9 L896.8,663.0 L897.3,662.8 L897.8,662.7 L898.3,662.7 L898.8,662.4 L899.3,662.5 L899.8,662.7 L900.3,662.7 L900.8,662.7 L901.3,663.0 L901.8,662.9 L902.3,662.7 L902.8,662.9 L903.3,663.1 L903.8,663.2 L904.3,663.3 L904.8,663.5 L905.3,663.4 L905.8,663.3 L906.3,663.2 L906.8,663.2 L907.3,663.0 L907.8,663.2 L908.3,663.2 L908.8,663.2 L909.3,663.2 L909.8,663.4 L910.3,663.2 L910.8,663.3 L911.3,663.5 L911.8,663.4 L912.3,663.4 L912.8,663.5 L913.3,663.2 L913.8,663.2 L914.3,663.1 L914.8,663.1 L915.3,663.1 L915.8,663.3 L916.3,663.3 L916.8,663.3 L917.3,663.0 L917.8,663.0 L918.3,662.9 L918.8,662.8 L919.3,662.8 L919.8,663.1 L920.3,663.1 L920.8,663.3 L921.3,663.4 L921.8,663.4 L922.3,663.5 L922.8,663.4 L923.3,663.4 L923.8,663.2 L924.3,663.0 L924.8,662.8 L925.3,662.9 L925.8,662.9 L926.3,662.9 L926.8,663.1 L927.3,663.3 L927.8,663.4 L928.3,663.4 L928.8,663.3 L929.3,663.3 L929.8,663.2 L930.3,663.0 L930.8,663.0 L931.3,663.1 L931.8,663.2 L932.3,663.3 L932.8,663.3 L933.3,663.3 L933.8,663.3 L934.3,663.1 L934.8,663.0 L935.3,662.9 L935.8,662.9 L936.3,663.0 L936.8,663.0 L937.3,663.0 L937.8,663.4 L938.3,663.5 L938.8,663.6 L939.3,663.4 L939.8,663.5 L940.3,663.3 L940.8,663.1 L941.3,663.0 L941.8,663.2 L942.3,663.2 L942.8,663.0 L943.3,663.1 L943.8,663.3 L944.3,663.3 L944.8,663.3 L945.3,663.3 L945.8,663.4 L946.3,663.3 L946.8,663.3 L947.3,663.3 L947.8,663.5 L948.3,663.5 L948.8,663.6 L949.3,663.6 L949.8,663.8 L950.3,663.8 L950.8,663.7 L951.3,663.4 L951.8,663.3 L952.3,663.2 L952.8,662.9 L953.3,663.0 L953.8,663.1 L954.3,663.0 L954.8,662.9 L955.3,662.9 L955.8,662.9 L956.3,663.0 L956.8,663.1 L957.3,663.2 L957.7,663.4"/>

<!-- main axis -->
<g class="ax">
<line x1="51.33" y1="684.1" x2="958.30" y2="684.1" stroke-width="1.75"/>
<line x1="162.6" y1="684.1" x2="162.6" y2="672.1"/>
<line x1="321.5" y1="684.1" x2="321.5" y2="672.1"/>
<line x1="480.5" y1="684.1" x2="480.5" y2="672.1"/>
<line x1="639.4" y1="684.1" x2="639.4" y2="672.1"/>
<line x1="798.4" y1="684.1" x2="798.4" y2="672.1"/>
<line x1="957.4" y1="684.1" x2="957.4" y2="672.1"/>
<line x1="83.1" y1="684.1" x2="83.1" y2="677.8"/>
<line x1="242.1" y1="684.1" x2="242.1" y2="677.8"/>
<line x1="401.0" y1="684.1" x2="401.0" y2="677.8"/>
<line x1="560.0" y1="684.1" x2="560.0" y2="677.8"/>
<line x1="718.9" y1="684.1" x2="718.9" y2="677.8"/>
<line x1="877.9" y1="684.1" x2="877.9" y2="677.8"/>
</g>
<g class="tl">
<text x="162.6" y="717.8">5</text>
<text x="321.5" y="717.8">10</text>
<text x="480.5" y="717.8">15</text>
<text x="639.4" y="717.8">20</text>
<text x="798.4" y="717.8">25</text>
<text x="957.4" y="717.8">30</text>
</g>
<text class="tl" x="504" y="764.2">2 Theta</text>

<!-- panel letters -->
<text class="pl" x="-0.9" y="245.7">a</text>
<text class="pl" x="-1.5" y="431.9">b</text>
<text class="pl" x="-1.3" y="626.3">c</text>
</svg>
</body>
</html>
